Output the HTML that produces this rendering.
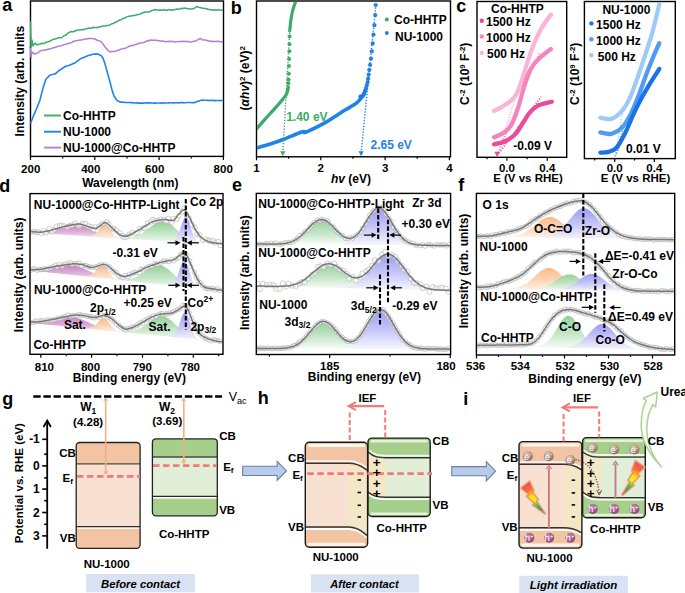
<!DOCTYPE html>
<html><head><meta charset="utf-8"><style>html,body{margin:0;padding:0;background:#fff;font-family:"Liberation Sans", sans-serif;}svg{display:block;}</style></head><body>
<svg width="685" height="593" viewBox="0 0 685 593" font-family="&quot;Liberation Sans&quot;, sans-serif" font-weight="bold">
<defs>
<linearGradient id="gPur" x1="0" y1="0" x2="0" y2="1"><stop offset="0" stop-color="#bf72b6"/><stop offset="0.55" stop-color="#dcaad6"/><stop offset="1" stop-color="#f7e8f5"/></linearGradient>
<linearGradient id="gOra" x1="0" y1="0" x2="0" y2="1"><stop offset="0" stop-color="#f7b47a"/><stop offset="0.55" stop-color="#fad2b0"/><stop offset="1" stop-color="#fef3ea"/></linearGradient>
<linearGradient id="gGrn" x1="0" y1="0" x2="0" y2="1"><stop offset="0" stop-color="#86ca8e"/><stop offset="0.55" stop-color="#c0e4c3"/><stop offset="1" stop-color="#f7fcf7"/></linearGradient>
<linearGradient id="gBlu" x1="0" y1="0" x2="0" y2="1"><stop offset="0" stop-color="#9090f3"/><stop offset="0.55" stop-color="#c3c3f8"/><stop offset="1" stop-color="#f5f5fe"/></linearGradient>
<linearGradient id="gArr" x1="0" y1="0" x2="0" y2="1"><stop offset="0" stop-color="#dbe8f7"/><stop offset="0.5" stop-color="#b4cdee"/><stop offset="1" stop-color="#9dbbe6"/></linearGradient>
<radialGradient id="gE" cx="0.4" cy="0.3" r="0.75"><stop offset="0" stop-color="#e2d0c6"/><stop offset="1" stop-color="#86604f"/></radialGradient>
<radialGradient id="gH" cx="0.4" cy="0.3" r="0.75"><stop offset="0" stop-color="#c98bb5"/><stop offset="1" stop-color="#853f70"/></radialGradient>
<linearGradient id="gBolt" x1="0" y1="0" x2="1" y2="1"><stop offset="0" stop-color="#f0303a"/><stop offset="0.35" stop-color="#f7a21d"/><stop offset="0.6" stop-color="#f4e61c"/><stop offset="0.8" stop-color="#3cc45a"/><stop offset="1" stop-color="#1e90c8"/></linearGradient>
<linearGradient id="gBolt2" x1="1" y1="0" x2="0" y2="1"><stop offset="0" stop-color="#f0303a"/><stop offset="0.35" stop-color="#f7a21d"/><stop offset="0.6" stop-color="#f4e61c"/><stop offset="0.8" stop-color="#3cc45a"/><stop offset="1" stop-color="#1e90c8"/></linearGradient>
</defs>
<rect width="685" height="593" fill="#fff"/>
<text x="2.2" y="11" font-size="18" text-anchor="start" fill="#000" >a</text>
<rect x="30.5" y="1" width="193" height="155.4" fill="none" stroke="#000" stroke-width="1.4"/>
<line x1="30.5" y1="156.4" x2="30.5" y2="159.9" stroke="#000" stroke-width="1.2" />
<line x1="94.8" y1="156.4" x2="94.8" y2="159.9" stroke="#000" stroke-width="1.2" />
<line x1="159.1" y1="156.4" x2="159.1" y2="159.9" stroke="#000" stroke-width="1.2" />
<line x1="223.4" y1="156.4" x2="223.4" y2="159.9" stroke="#000" stroke-width="1.2" />
<line x1="62.7" y1="156.4" x2="62.7" y2="158.4" stroke="#000" stroke-width="1.2" />
<line x1="127" y1="156.4" x2="127" y2="158.4" stroke="#000" stroke-width="1.2" />
<line x1="191.3" y1="156.4" x2="191.3" y2="158.4" stroke="#000" stroke-width="1.2" />
<text x="30.7" y="172.6" font-size="11.5" text-anchor="middle" fill="#000" >200</text>
<text x="90.8" y="172.6" font-size="11.5" text-anchor="middle" fill="#000" >400</text>
<text x="154.7" y="172.6" font-size="11.5" text-anchor="middle" fill="#000" >600</text>
<text x="223.2" y="172.6" font-size="11.5" text-anchor="middle" fill="#000" >800</text>
<text x="130.3" y="187.2" font-size="12" text-anchor="middle" fill="#000" >Wavelength (nm)</text>
<text transform="translate(23.8,81.1) rotate(-90)" font-size="12" text-anchor="middle">Intensity (arb. units</text>
<polyline points="30.5,21 31,47 32,40 33,46 35,43 37,45 38.5,44.3 40,44 41.7,43.3 43.3,43.5 45,43 46.7,41.9 48.3,41.7 50,41 51.7,40.2 53.3,39.2 55,39 56.8,38.6 58.5,37.8 60.2,37.8 62,37.5 64,35.8 66,35 68,33.1 70,32 71.7,31.6 73.3,31.7 75,31 76.7,30.3 78.3,30.1 80,30 81.7,29.8 83.3,29.8 85,29 86.7,28.7 88.3,28.2 90,28 91.7,28.3 93.3,27.2 95,27.5 96.7,27.7 98.3,27 100,27 101.7,26.3 103.3,26 105,26 106.7,25.5 108.3,25.6 110,25 111.7,23.8 113.3,23.4 115,22.5 116.7,21.8 118.3,20.7 120,20 121.7,19.4 123.3,18.2 125,18 126.7,16.9 128.3,16.4 130,16 131.7,16 133.3,15.6 135,15.5 136.7,14.8 138.3,14.6 140,14 141.7,13.3 143.3,12.5 145,12 146.7,12.1 148.3,11.9 150,11.5 151.7,10.6 153.3,10.2 155,9.5 156.7,9.7 158.3,10.2 160,10 161.7,10.2 163.3,9.8 165,10 166.7,10.5 168.3,9.6 170,10 171.7,9.8 173.3,9.9 175,9.5 176.7,9 178.3,9.2 180,9 181.7,8.2 183.3,8.5 185,8 186.7,8.6 188.3,8.7 190,9 192,9.1 194,8.5 195.5,7.3 197,6.5 198.5,7.2 200,7.5 201.7,7.9 203.3,8.2 205,8.5 206.7,8.8 208.3,9.5 210,9.5 211.7,10.1 213.3,9.8 215,10 216.6,10.2 218.2,9.6 219.8,10.2 221.4,10.1 223,10" fill="none" stroke="#3dab6a" stroke-width="1.5" stroke-linejoin="round" />
<polyline points="30.5,48 31,57 32,52 33,53 35,54 36.7,53.4 38.3,52.3 40,51 41.7,50.5 43.3,50.2 45,50 46.7,49.8 48.3,49 50,49 51.7,48.5 53.3,47.7 55,47.5 56.7,46.7 58.3,46.1 60,46 61.7,45.7 63.3,44.7 65,44.5 66.7,43.8 68.3,43.4 70,43 71.7,42.6 73.3,41.3 75,41 76.7,40.6 78.3,40.4 80,40 81.7,40 83.3,39.6 85,39 86.7,39.1 88.3,38.5 90,38.5 91.7,38.6 93.3,38.7 95,39 96.7,40 98.3,40.7 100,41 101.5,42.2 103,44 105,47 106.5,48.5 108,50.5 110,52 111.7,51.6 113.3,51.5 115,51.5 116.7,50.8 118.3,50.2 120,49.5 121.7,49 123.3,48.4 125,48.5 126.7,47.6 128.3,46.7 130,46 131.7,45.6 133.3,45.4 135,44.5 136.7,44.2 138.3,43.5 140,43 141.7,42.8 143.3,42.5 145,42 146.7,41 148.3,41 150,40 151.7,40.2 153.3,40.3 155,40 156.7,40.6 158.3,40.6 160,41 161.7,41.1 163.3,41 165,41.5 166.7,41.7 168.3,41.3 170,41.4 171.7,41.6 173.3,41.6 175,42 176.7,41.8 178.3,41.5 180,41.4 181.7,41.4 183.3,41.3 185,41.5 186.7,41.6 188.3,41.5 190,42 191.5,42 193,41.6 194.5,41 196,41 198,39.6 200,38.5 201.5,39.1 203,40 204.8,40.1 206.5,40.2 208.2,41 210,41 211.5,41.5 213,41.2 214.5,41.4 216,41.5 217.8,41.3 219.5,41.4 221.2,41.7 223,42" fill="none" stroke="#b47ed8" stroke-width="1.5" stroke-linejoin="round" />
<polyline points="30.5,123.5 33,117 34.5,113.4 36,110 38,105.1 40,100 41.5,93.9 43,88 44.5,83.4 46,79 48,77.1 50,75 51.7,74.7 53.3,74.2 55,74 56.7,72.7 58.3,71.2 60,70 61.7,68.8 63.3,67.8 65,66.5 66.7,66.1 68.3,65.6 70,65 71.7,64.3 73.3,63.6 75,63 76.7,61.6 78.3,60.4 80,59 81.7,58.3 83.3,57.8 85,57 86.7,56.3 88.3,55.6 90,55 92,54.6 94,54 96,54.1 98,54 99.5,54.9 101,55.5 103,58 105,64 107,71 108.5,76.6 110,82 112,90 114,96 115.5,98.3 117,100.5 118.5,101.3 120,102 121.7,102.1 123.3,102.3 125,102.5 126.5,102.5 128,102.5 129.5,102.5 131,102.6 132.5,102.7 134,102.9 135.5,103 137,102.9 138.5,103.1 140,103 141.5,103.1 143.1,103.1 144.6,103 146.2,102.9 147.7,102.9 149.2,102.9 150.8,102.9 152.3,103 153.8,103.1 155.4,103.1 156.9,103 158.5,103 160,103 161.5,103.1 163.1,102.8 164.6,103 166.2,103 167.7,103 169.2,102.9 170.8,102.8 172.3,102.7 173.8,102.9 175.4,102.7 176.9,102.8 178.5,102.9 180,102.7 181.5,102.6 183,102.6 184.5,102.8 186,102.7 187.5,102.5 189,102.5 190.5,102.5 192,102.7 193.5,102.6 195,102.5 197,101.6 199,101 200.5,100.6 202,100 203.6,100.2 205.2,100.2 206.8,100.3 208.4,100.4 210,100.5 211.6,100.4 213.2,100.4 214.9,100.6 216.5,100.5 218.1,100.5 219.8,100.6 221.4,100.5 223,100.5" fill="none" stroke="#1f84e8" stroke-width="1.6" stroke-linejoin="round" />
<line x1="44" y1="115.5" x2="61" y2="115.5" stroke="#3dab6a" stroke-width="1.9" />
<text x="63" y="119.8" font-size="12" text-anchor="start" fill="#000" >Co-HHTP</text>
<line x1="44" y1="131.7" x2="61" y2="131.7" stroke="#1f84e8" stroke-width="1.9" />
<text x="63" y="136" font-size="12" text-anchor="start" fill="#000" >NU-1000</text>
<line x1="44" y1="147.6" x2="61" y2="147.6" stroke="#b47ed8" stroke-width="1.9" />
<text x="63" y="151.9" font-size="12" text-anchor="start" fill="#000" >NU-1000@Co-HHTP</text>
<text x="230.7" y="14" font-size="18" text-anchor="start" fill="#000" >b</text>
<rect x="256.5" y="1" width="194" height="155.8" fill="none" stroke="#000" stroke-width="1.4"/>
<line x1="256.5" y1="156.8" x2="256.5" y2="160.3" stroke="#000" stroke-width="1.2" />
<line x1="320.8" y1="156.8" x2="320.8" y2="160.3" stroke="#000" stroke-width="1.2" />
<line x1="385.1" y1="156.8" x2="385.1" y2="160.3" stroke="#000" stroke-width="1.2" />
<line x1="449.4" y1="156.8" x2="449.4" y2="160.3" stroke="#000" stroke-width="1.2" />
<line x1="288.6" y1="156.8" x2="288.6" y2="158.8" stroke="#000" stroke-width="1.2" />
<line x1="352.9" y1="156.8" x2="352.9" y2="158.8" stroke="#000" stroke-width="1.2" />
<line x1="417.2" y1="156.8" x2="417.2" y2="158.8" stroke="#000" stroke-width="1.2" />
<text x="256.5" y="172.4" font-size="11.5" text-anchor="middle" fill="#000" >1</text>
<text x="320.8" y="172.4" font-size="11.5" text-anchor="middle" fill="#000" >2</text>
<text x="385.1" y="172.4" font-size="11.5" text-anchor="middle" fill="#000" >3</text>
<text x="449.4" y="172.4" font-size="11.5" text-anchor="middle" fill="#000" >4</text>
<text x="351" y="182.5" font-size="12" text-anchor="middle"><tspan font-style="italic">hv</tspan> (eV)</text>
<text transform="translate(249.2,78.2) rotate(-90)" font-size="12" text-anchor="middle">(<tspan font-style="italic">αhv</tspan>)<tspan font-size="8" dy="-4">2</tspan><tspan dy="4"> (eV)</tspan><tspan font-size="8" dy="-4">2</tspan></text>
<clipPath id="cb"><rect x="257" y="1.7" width="193" height="154.5"/></clipPath>
<g clip-path="url(#cb)">
<path d="M257,128.4 C258.4,126.9 262.3,122.2 265.1,119.1 C267.9,116 271.1,112.6 273.6,109.8 C276.1,107 278.2,104.7 280.3,102.2 C282.4,99.7 284.9,96.7 286.2,94.6 C287.5,92.5 287.5,90.8 287.9,89.5 C288.2,88.2 288.2,87.4 288.3,87" fill="none" stroke="#3dab6a" stroke-width="3.3" stroke-linecap="round"/>
<path d="M257,147.8 C259.5,147.1 267.4,144.9 271.9,143.5 C276.3,142.1 278.6,141.3 283.7,139.3 C288.8,137.3 298.6,132.9 302.3,131.7 C306,130.5 302.2,133.5 305.6,132.2 C309,130.9 317.6,126.7 322.5,124.1 C327.4,121.5 331.2,118.8 335,116.5 C338.8,114.2 341.3,112.3 345,110 C348.7,107.7 353.9,105.3 357,102.7 C360.1,100.1 362.7,95.9 363.8,94.6" fill="none" stroke="#1f84e8" stroke-width="3.6" stroke-linecap="round"/>
<path d="M289.7,31 C289.8,30 290.1,27.2 290.3,25 C290.6,22.8 290.8,20.3 291.2,18 C291.6,15.7 292.1,13.2 292.6,11 C293.1,8.8 293.7,7 294.4,5 C295.1,3 296.4,0 296.8,-1" fill="none" stroke="#3dab6a" stroke-width="3.2" stroke-linecap="round"/>
<line x1="282.8" y1="153" x2="290.3" y2="22" stroke="#3dab6a" stroke-width="1.4" stroke-dasharray="1.3,1.6"/>
<line x1="361.1" y1="153" x2="376" y2="4" stroke="#1f84e8" stroke-width="1.4" stroke-dasharray="1.3,1.6"/>
<circle cx="289.6" cy="36.5" r="1.75" fill="#3dab6a" stroke="#2e8f55" stroke-width="0.4"/>
<circle cx="289.5" cy="44.2" r="1.75" fill="#3dab6a" stroke="#2e8f55" stroke-width="0.4"/>
<circle cx="289.4" cy="51.3" r="1.75" fill="#3dab6a" stroke="#2e8f55" stroke-width="0.4"/>
<circle cx="289.2" cy="58.9" r="1.75" fill="#3dab6a" stroke="#2e8f55" stroke-width="0.4"/>
<circle cx="289" cy="66" r="1.75" fill="#3dab6a" stroke="#2e8f55" stroke-width="0.4"/>
<circle cx="288.8" cy="73.7" r="1.75" fill="#3dab6a" stroke="#2e8f55" stroke-width="0.4"/>
<circle cx="288.5" cy="79.6" r="1.75" fill="#3dab6a" stroke="#2e8f55" stroke-width="0.4"/>
<circle cx="288.4" cy="83.2" r="1.75" fill="#3dab6a" stroke="#2e8f55" stroke-width="0.4"/>
<circle cx="375.7" cy="5" r="1.85" fill="#1f84e8" stroke="#1466c0" stroke-width="0.4"/>
<circle cx="375.2" cy="15.1" r="1.85" fill="#1f84e8" stroke="#1466c0" stroke-width="0.4"/>
<circle cx="374.4" cy="25.2" r="1.85" fill="#1f84e8" stroke="#1466c0" stroke-width="0.4"/>
<circle cx="373.5" cy="34.5" r="1.85" fill="#1f84e8" stroke="#1466c0" stroke-width="0.4"/>
<circle cx="372.7" cy="43.4" r="1.85" fill="#1f84e8" stroke="#1466c0" stroke-width="0.4"/>
<circle cx="371.8" cy="51.3" r="1.85" fill="#1f84e8" stroke="#1466c0" stroke-width="0.4"/>
<circle cx="371" cy="58.6" r="1.85" fill="#1f84e8" stroke="#1466c0" stroke-width="0.4"/>
<circle cx="370.1" cy="64.8" r="1.85" fill="#1f84e8" stroke="#1466c0" stroke-width="0.4"/>
<circle cx="369.3" cy="69.8" r="1.85" fill="#1f84e8" stroke="#1466c0" stroke-width="0.4"/>
<circle cx="368.7" cy="74.5" r="1.85" fill="#1f84e8" stroke="#1466c0" stroke-width="0.4"/>
<circle cx="368.1" cy="78.5" r="1.85" fill="#1f84e8" stroke="#1466c0" stroke-width="0.4"/>
<circle cx="367.6" cy="82" r="1.85" fill="#1f84e8" stroke="#1466c0" stroke-width="0.4"/>
<circle cx="366.8" cy="85" r="1.85" fill="#1f84e8" stroke="#1466c0" stroke-width="0.4"/>
<circle cx="366" cy="88" r="1.85" fill="#1f84e8" stroke="#1466c0" stroke-width="0.4"/>
<circle cx="365.2" cy="90.5" r="1.85" fill="#1f84e8" stroke="#1466c0" stroke-width="0.4"/>
<circle cx="364.4" cy="92.8" r="1.85" fill="#1f84e8" stroke="#1466c0" stroke-width="0.4"/>
<circle cx="363.4" cy="94.8" r="1.85" fill="#1f84e8" stroke="#1466c0" stroke-width="0.4"/>
<circle cx="360.4" cy="96.5" r="1.85" fill="#1f84e8" stroke="#1466c0" stroke-width="0.4"/>
</g>
<path d="M280.2,151.2 L282.8,156.3 L285.4,151.2 Z" fill="#3dab6a"/>
<path d="M358.5,151.2 L361.1,156.3 L363.7,151.2 Z" fill="#1f84e8"/>
<text x="286.2" y="121.1" font-size="12" text-anchor="start" fill="#3dab6a" >1.40 eV</text>
<text x="370.5" y="148.6" font-size="12" text-anchor="start" fill="#1f84e8" >2.65 eV</text>
<circle cx="386.8" cy="19.5" r="2" fill="#3dab6a"/>
<circle cx="386.8" cy="33" r="2" fill="#1f84e8"/>
<text x="394" y="24.2" font-size="12" text-anchor="start" fill="#000" >Co-HHTP</text>
<text x="395" y="41.3" font-size="12" text-anchor="start" fill="#000" >NU-1000</text>
<text x="456.2" y="11.8" font-size="18" text-anchor="start" fill="#000" >c</text>
<rect x="477" y="1.5" width="89.7" height="155.8" fill="none" stroke="#000" stroke-width="1.4"/>
<rect x="584.4" y="1.5" width="90.9" height="157.1" fill="none" stroke="#000" stroke-width="1.4"/>
<line x1="506.9" y1="157.2" x2="506.9" y2="160.7" stroke="#000" stroke-width="1.2" />
<line x1="547.3" y1="157.2" x2="547.3" y2="160.7" stroke="#000" stroke-width="1.2" />
<line x1="487" y1="157.2" x2="487" y2="159.2" stroke="#000" stroke-width="1.2" />
<line x1="527.1" y1="157.2" x2="527.1" y2="159.2" stroke="#000" stroke-width="1.2" />
<line x1="614.7" y1="158.6" x2="614.7" y2="162.1" stroke="#000" stroke-width="1.2" />
<line x1="654.3" y1="158.6" x2="654.3" y2="162.1" stroke="#000" stroke-width="1.2" />
<line x1="594.6" y1="158.6" x2="594.6" y2="160.6" stroke="#000" stroke-width="1.2" />
<line x1="634.5" y1="158.6" x2="634.5" y2="160.6" stroke="#000" stroke-width="1.2" />
<text x="506.9" y="172.3" font-size="11.5" text-anchor="middle" fill="#000" >0.0</text>
<text x="547.3" y="172.3" font-size="11.5" text-anchor="middle" fill="#000" >0.4</text>
<text x="614.7" y="172.3" font-size="11.5" text-anchor="middle" fill="#000" >0.0</text>
<text x="654.3" y="172.3" font-size="11.5" text-anchor="middle" fill="#000" >0.4</text>
<text x="528" y="182" font-size="11.5" text-anchor="middle" fill="#000" >E (V vs RHE)</text>
<text x="635.5" y="182" font-size="11.5" text-anchor="middle" fill="#000" >E (V vs RHE)</text>
<text transform="translate(469.2,73.8) rotate(-90)" font-size="12" text-anchor="middle">C<tspan font-size="7.8" dy="-4.2">-2</tspan><tspan dy="4.2"> (10</tspan><tspan font-size="7.8" dy="-4.2">9</tspan><tspan dy="4.2"> F</tspan><tspan font-size="7.8" dy="-4.2">-2</tspan><tspan dy="4.2">)</tspan></text>
<text transform="translate(578.7,73.8) rotate(-90)" font-size="12" text-anchor="middle">C<tspan font-size="7.8" dy="-4.2">-2</tspan><tspan dy="4.2"> (10</tspan><tspan font-size="7.8" dy="-4.2">9</tspan><tspan dy="4.2"> F</tspan><tspan font-size="7.8" dy="-4.2">-2</tspan><tspan dy="4.2">)</tspan></text>
<text x="491.1" y="13.2" font-size="12" text-anchor="start" fill="#000" >Co-HHTP</text>
<circle cx="481.8" cy="20.8" r="2.2" fill="#ee4a9b"/>
<text x="486" y="26.1" font-size="12" text-anchor="start" fill="#000" >1500 Hz</text>
<circle cx="481.8" cy="36.5" r="2.2" fill="#f583bd"/>
<text x="486" y="41.8" font-size="12" text-anchor="start" fill="#000" >1000 Hz</text>
<circle cx="481.8" cy="52.9" r="2.2" fill="#f9b5d6"/>
<text x="487" y="58.2" font-size="12" text-anchor="start" fill="#000" >500 Hz</text>
<text x="602.4" y="14.3" font-size="12" text-anchor="start" fill="#000" >NU-1000</text>
<circle cx="591.4" cy="23.4" r="2.2" fill="#1a74e6"/>
<text x="596.1" y="28.7" font-size="12" text-anchor="start" fill="#000" >1500 Hz</text>
<circle cx="591.4" cy="39.3" r="2.2" fill="#4f9cf0"/>
<text x="596.1" y="44.6" font-size="12" text-anchor="start" fill="#000" >1000 Hz</text>
<circle cx="591.4" cy="55.3" r="2.2" fill="#9fcaf6"/>
<text x="597.8" y="60.6" font-size="12" text-anchor="start" fill="#000" >500 Hz</text>
<clipPath id="cc1"><rect x="477.7" y="2.2" width="88.3" height="154.4"/></clipPath>
<clipPath id="cc2"><rect x="585.1" y="2.2" width="89.5" height="155.7"/></clipPath>
<g clip-path="url(#cc1)">
<line x1="497.1" y1="155.4" x2="541.3" y2="96.7" stroke="#ee4a9b" stroke-width="1.6" stroke-dasharray="1.3,1.5"/>
<line x1="497.1" y1="155.4" x2="539.7" y2="52.1" stroke="#f583bd" stroke-width="1.6" stroke-dasharray="1.3,1.5"/>
<line x1="497.1" y1="155.4" x2="521" y2="80" stroke="#f9b5d6" stroke-width="1.6" stroke-dasharray="1.3,1.5"/>
<path d="M494.1,110.9 C495.1,110.4 498.1,109 500,108 C501.9,107 503.6,105.8 505.2,104.8 C506.8,103.8 508.1,102.9 509.5,101.8 C510.9,100.7 512.1,99.6 513.3,98.3 C514.5,97 515.5,95.6 516.5,94 C517.5,92.4 518.2,90.8 519,88.6 C519.8,86.4 520.7,83.6 521.5,81 C522.3,78.4 523,76.1 524,73 C525,69.9 526.2,66.1 527.5,62.3 C528.8,58.5 530.2,53.8 531.6,50.1 C533,46.4 534.1,43.4 535.6,40 C537.1,36.6 538.9,33 540.5,30 C542.1,27 543.8,24.5 545.5,22 C547.2,19.5 550.1,16 551,14.8" fill="none" stroke="#f9b5d6" stroke-width="4.3" stroke-linecap="round"/>
<path d="M494.1,137.2 C495.6,136.5 500.3,135.1 503.2,133.1 C506.1,131.1 508.8,129.4 511.3,125 C513.8,120.6 516.4,112.9 518.4,106.8 C520.4,100.7 521.8,94.2 523.5,88.6 C525.2,83 526.6,77.6 528.5,73.4 C530.4,69.2 532.4,66.2 534.6,63.3 C536.8,60.4 539,58.6 541.7,56.2 C544.4,53.8 549.3,50.3 550.8,49.1" fill="none" stroke="#f583bd" stroke-width="4.3" stroke-linecap="round"/>
<path d="M494.1,144.3 C496,143.8 501.6,142.9 505.2,141.2 C508.8,139.5 512.4,137.3 515.4,134.1 C518.4,130.9 521.1,125.5 523.5,122 C525.9,118.5 527.1,115.6 529.5,112.9 C531.9,110.2 533.9,107.7 537.6,105.8 C541.3,103.9 549.4,102.4 551.8,101.7" fill="none" stroke="#ee4a9b" stroke-width="4.3" stroke-linecap="round"/>
<path d="M494.3,151.8 L497.1,157 L499.9,151.8 Z" fill="#ee4a9b"/>
</g>
<g clip-path="url(#cc2)">
<line x1="615.3" y1="156.2" x2="627" y2="128" stroke="#1a74e6" stroke-width="1.4" stroke-dasharray="1.2,1.6"/>
<line x1="615.3" y1="156.2" x2="625" y2="122" stroke="#4f9cf0" stroke-width="1.4" stroke-dasharray="1.2,1.6"/>
<line x1="615.3" y1="156.2" x2="623" y2="110" stroke="#9fcaf6" stroke-width="1.4" stroke-dasharray="1.2,1.6"/>
<path d="M600.4,117.6 C602.2,117.8 607.6,120 611.2,118.9 C614.8,117.8 618.9,114.4 622,110.8 C625.1,107.2 627.4,103.1 630.1,97.3 C632.8,91.5 635.5,83.4 638.2,75.7 C640.9,68 643.9,59.1 646.4,51.4 C648.9,43.7 651,37.6 653.1,29.7 C655.2,21.8 658.3,8.4 659.3,4.1" fill="none" stroke="#9fcaf6" stroke-width="4.3" stroke-linecap="round"/>
<path d="M600.4,132.4 C602.2,132.6 607.5,134.7 611.2,133.8 C614.9,132.9 619.2,130.4 622.5,127 C625.8,123.6 628.2,118.9 631,113.5 C633.8,108.1 636.4,101.3 639,94.6 C641.6,87.8 644.4,79.3 646.8,73 C649.2,66.7 651.2,61.8 653.3,56.8 C655.4,51.8 658.3,45.5 659.3,43.2" fill="none" stroke="#4f9cf0" stroke-width="4.3" stroke-linecap="round"/>
<path d="M600.4,152.7 C601.8,152.6 605.8,152.8 608.5,151.9 C611.2,151 614,150.6 616.8,147.3 C619.6,144.1 622.7,138 625.5,132.4 C628.3,126.8 631,119.3 633.8,113.5 C636.5,107.7 639.3,102.2 642,97.3 C644.7,92.3 646.9,88.5 649.8,83.8 C652.7,79.1 657.7,71.4 659.3,68.9" fill="none" stroke="#1a74e6" stroke-width="4.3" stroke-linecap="round"/>
</g>
<text x="513.3" y="150.3" font-size="12" text-anchor="start" fill="#000" >-0.09 V</text>
<text x="626.1" y="152.7" font-size="12" text-anchor="start" fill="#000" >0.01 V</text>
<text x="-0.8" y="191.6" font-size="18" text-anchor="start" fill="#000" >d</text>
<clipPath id="cd"><rect x="30.7" y="194.3" width="191.6" height="159.3"/></clipPath>
<g clip-path="url(#cd)">
<path d="M30,232.1 L31,232.1 L32,232.1 L33,232.1 L34,232.1 L35,232 L36,232 L37,231.9 L38,231.8 L38.9,231.7 L39.9,231.6 L40.9,231.5 L41.9,231.4 L42.9,231.2 L43.9,231.1 L44.9,230.9 L45.9,230.7 L46.9,230.5 L47.9,230.2 L48.9,230 L49.9,229.7 L50.9,229.4 L51.9,229.1 L52.9,228.8 L53.9,228.5 L54.8,228.2 L55.8,227.8 L56.8,227.5 L57.8,227.2 L58.8,226.8 L59.8,226.5 L60.8,226.2 L61.8,225.9 L62.8,225.6 L63.8,225.3 L64.8,225.1 L65.8,224.9 L66.8,224.6 L67.8,224.5 L68.8,224.3 L69.8,224.2 L70.8,224.1 L71.7,224.1 L72.7,224.1 L73.7,224.1 L74.7,224.2 L75.7,224.3 L76.7,224.5 L77.7,224.7 L78.7,224.9 L79.7,225.1 L80.7,225.4 L81.7,225.7 L82.7,226.1 L83.7,226.5 L84.7,226.8 L85.7,227.3 L86.7,227.7 L87.6,228.1 L88.6,228.6 L89.6,229 L90.6,229.5 L91.6,229.9 L92.6,230.4 L93.6,230.9 L94.6,231.3 L95.6,231.8 L96.6,232.2 L97.6,232.6 L98.6,233 L99.6,233.4 L100.6,233.8 L101.6,234.1 L102.6,234.5 L103.6,234.8 L104.5,235.1 L105.5,235.4 L106.5,235.7 L107.5,235.9 L108.5,236.2 L109.5,236.4 L110.5,236.6 L111.5,236.8 L112.5,237 L113.5,237.2 L114.5,237.3 L115.5,237.5 L116.5,237.6 L117.5,237.7 L118.5,237.9 L119.5,238 L120.4,238.1 L121.4,238.2 L122.4,238.3 L123.4,238.4 L124.4,238.5 L125.4,238.6 L126.4,238.6 L127.4,238.7 L128.4,238.8 L128.4,238.9 L30,232.5Z" fill="url(#gPur)" opacity="0.9"/>
<path d="M87.4,236.1 L88.4,236.1 L89.4,236.1 L90.3,236 L91.3,235.9 L92.3,235.6 L93.3,235.2 L94.2,234.7 L95.2,234 L96.2,233.1 L97.2,232 L98.2,230.7 L99.1,229.4 L100.1,228 L101.1,226.7 L102.1,225.5 L103,224.7 L104,224.1 L105,224 L106,224.2 L107,224.9 L107.9,225.9 L108.9,227.2 L109.9,228.6 L110.9,230.2 L111.8,231.6 L112.8,233 L113.8,234.2 L114.8,235.2 L115.8,236.1 L116.7,236.7 L117.7,237.3 L118.7,237.6 L119.7,237.9 L120.6,238.1 L121.6,238.3 L122.6,238.4 L122.6,238.5 L87.4,236.2Z" fill="url(#gOra)" opacity="0.9"/>
<path d="M118.2,238.1 L119.2,238.1 L120.2,238.2 L121.2,238.2 L122.2,238.2 L123.2,238.2 L124.2,238.2 L125.2,238.1 L126.2,238.1 L127.2,238 L128.2,238 L129.2,237.9 L130.1,237.7 L131.1,237.6 L132.1,237.4 L133.1,237.1 L134.1,236.9 L135.1,236.6 L136.1,236.2 L137.1,235.8 L138.1,235.4 L139.1,234.9 L140.1,234.4 L141.1,233.8 L142.1,233.2 L143.1,232.6 L144.1,231.9 L145.1,231.2 L146.1,230.4 L147.1,229.7 L148.1,228.9 L149.1,228.1 L150.1,227.3 L151.1,226.5 L152,225.7 L153,225 L154,224.3 L155,223.7 L156,223.1 L157,222.6 L158,222.1 L159,221.7 L160,221.5 L161,221.3 L162,221.2 L163,221.2 L164,221.3 L165,221.5 L166,221.9 L167,222.3 L168,222.8 L169,223.3 L170,224 L171,224.7 L172,225.5 L173,226.3 L174,227.2 L174.9,228.1 L175.9,229 L176.9,229.9 L177.9,230.8 L178.9,231.7 L179.9,232.6 L180.9,233.5 L181.9,234.4 L182.9,235.2 L183.9,235.9 L184.9,236.7 L185.9,237.4 L186.9,238 L187.9,238.6 L188.9,239.2 L189.9,239.7 L190.9,240.2 L191.9,240.6 L192.9,241 L193.9,241.4 L194.9,241.7 L195.9,242 L196.8,242.2 L197.8,242.5 L198.8,242.7 L199.8,242.9 L200.8,243 L201.8,243.2 L202.8,243.3 L203.8,243.5 L204.8,243.6 L205.8,243.7 L206.8,243.8 L207.8,243.9 L207.8,244 L118.2,238.2Z" fill="url(#gGrn)" opacity="0.9"/>
<path d="M169.8,241.4 L170.8,241.3 L171.7,241.2 L172.7,240.9 L173.7,240.5 L174.6,239.8 L175.6,238.7 L176.6,237.3 L177.6,235.5 L178.5,233.3 L179.5,230.7 L180.5,227.9 L181.4,225 L182.4,222.2 L183.4,219.9 L184.3,218.1 L185.3,217.3 L186.3,217.3 L187.3,218.3 L188.2,220.2 L189.2,222.6 L190.2,225.5 L191.1,228.6 L192.1,231.5 L193.1,234.2 L194,236.6 L195,238.5 L196,240.1 L197,241.2 L197.9,242 L198.9,242.6 L199.9,243 L200.8,243.3 L201.8,243.5 L201.8,243.6 L169.8,241.6Z" fill="url(#gBlu)" opacity="0.9"/>
<g fill="#fff" fill-opacity="0.6" stroke="#a6a6a6" stroke-width="0.55"><circle cx="30.9" cy="231.9" r="2.5"/><circle cx="34.1" cy="231.7" r="2.5"/><circle cx="36.2" cy="232.5" r="2.5"/><circle cx="38.4" cy="232.2" r="2.5"/><circle cx="41.6" cy="233.4" r="2.5"/><circle cx="43.5" cy="230.9" r="2.5"/><circle cx="46.1" cy="232.6" r="2.5"/><circle cx="49.4" cy="228.6" r="2.5"/><circle cx="52.4" cy="231.9" r="2.5"/><circle cx="54.6" cy="229.7" r="2.5"/><circle cx="56.6" cy="226.3" r="2.5"/><circle cx="59.6" cy="225.8" r="2.5"/><circle cx="61.8" cy="225.9" r="2.5"/><circle cx="64.2" cy="226.2" r="2.5"/><circle cx="67.3" cy="227.2" r="2.5"/><circle cx="70" cy="225.8" r="2.5"/><circle cx="72.6" cy="225.3" r="2.5"/><circle cx="75.1" cy="223.2" r="2.5"/><circle cx="78.4" cy="226.1" r="2.5"/><circle cx="80.8" cy="225.1" r="2.5"/><circle cx="82.8" cy="223.6" r="2.5"/><circle cx="85.3" cy="223.8" r="2.5"/><circle cx="88.5" cy="226.1" r="2.5"/><circle cx="91.2" cy="226.9" r="2.5"/><circle cx="93.9" cy="229.7" r="2.5"/><circle cx="95.4" cy="227" r="2.5"/><circle cx="99.1" cy="226.8" r="2.5"/><circle cx="101.8" cy="224.6" r="2.5"/><circle cx="103.3" cy="223.4" r="2.5"/><circle cx="106.7" cy="221.9" r="2.5"/><circle cx="108.5" cy="224.2" r="2.5"/><circle cx="112.2" cy="228.5" r="2.5"/><circle cx="113.7" cy="228.6" r="2.5"/><circle cx="116.3" cy="230.3" r="2.5"/><circle cx="119.8" cy="233.1" r="2.5"/><circle cx="122.1" cy="235.6" r="2.5"/><circle cx="124.2" cy="237.3" r="2.5"/><circle cx="126.8" cy="236.7" r="2.5"/><circle cx="129.3" cy="234.6" r="2.5"/><circle cx="132.1" cy="232.6" r="2.5"/><circle cx="135.6" cy="233.5" r="2.5"/><circle cx="137.4" cy="232.4" r="2.5"/><circle cx="139.9" cy="228.7" r="2.5"/><circle cx="143.2" cy="228.2" r="2.5"/><circle cx="144.9" cy="228.1" r="2.5"/><circle cx="147.7" cy="223.2" r="2.5"/><circle cx="150.9" cy="221.9" r="2.5"/><circle cx="153" cy="219.6" r="2.5"/><circle cx="155.3" cy="221.1" r="2.5"/><circle cx="158.1" cy="220.6" r="2.5"/><circle cx="160.8" cy="219.5" r="2.5"/><circle cx="164.2" cy="219.4" r="2.5"/><circle cx="166.3" cy="221.3" r="2.5"/><circle cx="168.4" cy="218.6" r="2.5"/><circle cx="171.9" cy="222" r="2.5"/><circle cx="173.7" cy="218.7" r="2.5"/><circle cx="176.9" cy="219" r="2.5"/><circle cx="178.8" cy="215.8" r="2.5"/><circle cx="182.3" cy="211.5" r="2.5"/><circle cx="184.3" cy="208" r="2.5"/><circle cx="186.4" cy="214.9" r="2.5"/><circle cx="189.3" cy="218.7" r="2.5"/><circle cx="191.9" cy="224.5" r="2.5"/><circle cx="194.9" cy="227.6" r="2.5"/><circle cx="197" cy="233.9" r="2.5"/><circle cx="199.5" cy="235.1" r="2.5"/><circle cx="202.7" cy="240.2" r="2.5"/><circle cx="205.3" cy="239.2" r="2.5"/><circle cx="208.3" cy="240.1" r="2.5"/><circle cx="209.8" cy="241.2" r="2.5"/><circle cx="212.9" cy="240.9" r="2.5"/><circle cx="215.2" cy="242.6" r="2.5"/><circle cx="218.3" cy="241.8" r="2.5"/><circle cx="220.6" cy="245.3" r="2.5"/></g>
<path d="M30.2,231.6 C32.3,231.7 38.1,232.5 42.6,232 C47.1,231.5 52.8,229.5 57.2,228.4 C61.6,227.3 65.2,226.1 68.9,225.4 C72.6,224.7 75.7,223.8 79.1,224 C82.5,224.2 86.6,226.2 89.3,226.9 C92,227.6 93.4,228.6 95.2,228.4 C97,228.2 98.3,227 100,226 C101.7,225 103.3,222.1 105.4,222.5 C107.5,222.9 110.3,226.3 112.7,228.4 C115.1,230.5 117.8,233.6 120,234.9 C122.2,236.2 124.2,236.4 126,236.3 C127.8,236.2 129.1,235.2 131,234.3 C132.9,233.4 135.3,232 137.6,230.7 C139.9,229.4 142.5,227.8 144.9,226.3 C147.3,224.8 149.5,223 152.2,221.9 C154.9,220.8 158.6,220.1 161,219.7 C163.4,219.3 164.7,219.6 166.8,219.7 C168.9,219.8 171.5,221.2 173.4,220.4 C175.3,219.6 176.9,216.3 178.5,214.6 C180.1,212.9 181.7,210.8 182.9,210.2 C184.1,209.6 184.5,209.3 185.8,211 C187.1,212.7 189.2,217.1 190.9,220.4 C192.6,223.7 194.2,227.8 196,230.7 C197.8,233.6 199.4,236.1 201.8,238 C204.2,239.9 207.1,241.3 210.6,242.3 C214.1,243.3 220.9,243.6 223,243.8" fill="none" stroke="#787878" stroke-width="1.5"/>
<path d="M30,270 L31,270 L32,270 L33,270 L34,270 L35,270 L36,269.9 L37,269.9 L38,269.8 L38.9,269.8 L39.9,269.7 L40.9,269.6 L41.9,269.5 L42.9,269.3 L43.9,269.2 L44.9,269 L45.9,268.8 L46.9,268.6 L47.9,268.4 L48.9,268.2 L49.9,268 L50.9,267.8 L51.9,267.5 L52.9,267.3 L53.9,267 L54.8,266.8 L55.8,266.5 L56.8,266.3 L57.8,266 L58.8,265.8 L59.8,265.6 L60.8,265.4 L61.8,265.2 L62.8,265.1 L63.8,264.9 L64.8,264.8 L65.8,264.8 L66.8,264.7 L67.8,264.7 L68.8,264.7 L69.8,264.7 L70.7,264.8 L71.7,264.9 L72.7,265.1 L73.7,265.3 L74.7,265.5 L75.7,265.7 L76.7,266 L77.7,266.3 L78.7,266.6 L79.7,267 L80.7,267.4 L81.7,267.8 L82.7,268.2 L83.7,268.6 L84.7,269.1 L85.7,269.5 L86.6,270 L87.6,270.4 L88.6,270.9 L89.6,271.3 L90.6,271.8 L91.6,272.2 L92.6,272.7 L93.6,273.1 L94.6,273.5 L95.6,274 L96.6,274.3 L97.6,274.7 L98.6,275.1 L99.6,275.5 L100.6,275.8 L101.5,276.1 L102.5,276.4 L103.5,276.7 L104.5,277 L105.5,277.3 L106.5,277.5 L107.5,277.7 L108.5,278 L109.5,278.2 L110.5,278.4 L111.5,278.6 L112.5,278.8 L113.5,278.9 L114.5,279.1 L115.5,279.3 L116.5,279.4 L117.5,279.5 L118.4,279.7 L119.4,279.8 L120.4,280 L121.4,280.1 L122.4,280.2 L123.4,280.3 L124.4,280.5 L125.4,280.6 L125.4,280.6 L30,270.5Z" fill="url(#gPur)" opacity="0.9"/>
<path d="M83.3,276.1 L84.3,276.1 L85.3,276.2 L86.3,276.1 L87.2,276.1 L88.2,275.9 L89.2,275.7 L90.2,275.3 L91.2,274.8 L92.2,274.2 L93.1,273.4 L94.1,272.4 L95.1,271.4 L96.1,270.2 L97.1,269 L98.1,267.9 L99.1,266.9 L100,266.1 L101,265.5 L102,265.3 L103,265.4 L104,265.8 L105,266.6 L105.9,267.6 L106.9,268.8 L107.9,270.2 L108.9,271.6 L109.9,272.9 L110.9,274.2 L111.9,275.4 L112.8,276.4 L113.8,277.2 L114.8,277.9 L115.8,278.5 L116.8,279 L117.8,279.3 L118.7,279.6 L119.7,279.8 L120.7,280 L121.7,280.2 L121.7,280.2 L83.3,276.2Z" fill="url(#gOra)" opacity="0.9"/>
<path d="M114.7,279.4 L115.7,279.5 L116.7,279.5 L117.7,279.6 L118.7,279.6 L119.7,279.7 L120.7,279.7 L121.7,279.7 L122.7,279.7 L123.7,279.7 L124.7,279.7 L125.7,279.6 L126.6,279.5 L127.6,279.4 L128.6,279.3 L129.6,279.1 L130.6,278.9 L131.6,278.6 L132.6,278.4 L133.6,278 L134.6,277.7 L135.6,277.2 L136.6,276.8 L137.6,276.3 L138.6,275.7 L139.6,275.2 L140.6,274.5 L141.6,273.9 L142.6,273.2 L143.6,272.5 L144.6,271.8 L145.6,271.1 L146.6,270.4 L147.6,269.6 L148.5,269 L149.5,268.3 L150.5,267.7 L151.5,267.1 L152.5,266.6 L153.5,266.1 L154.5,265.7 L155.5,265.4 L156.5,265.2 L157.5,265 L158.5,265 L159.5,265.1 L160.5,265.2 L161.5,265.5 L162.5,265.8 L163.5,266.2 L164.5,266.8 L165.5,267.4 L166.5,268 L167.5,268.8 L168.5,269.6 L169.5,270.4 L170.5,271.3 L171.4,272.2 L172.4,273.1 L173.4,274 L174.4,275 L175.4,275.9 L176.4,276.8 L177.4,277.7 L178.4,278.6 L179.4,279.4 L180.4,280.2 L181.4,280.9 L182.4,281.6 L183.4,282.3 L184.4,282.9 L185.4,283.5 L186.4,284.1 L187.4,284.6 L188.4,285 L189.4,285.5 L190.4,285.8 L191.4,286.2 L192.4,286.5 L193.3,286.8 L194.3,287.1 L195.3,287.3 L196.3,287.6 L197.3,287.8 L198.3,288 L199.3,288.1 L200.3,288.3 L201.3,288.5 L202.3,288.6 L203.3,288.8 L204.3,288.9 L204.3,289 L114.7,279.5Z" fill="url(#gGrn)" opacity="0.9"/>
<path d="M168.3,285 L169.3,285 L170.2,284.9 L171.2,284.6 L172.2,284.2 L173.1,283.5 L174.1,282.5 L175.1,281 L176.1,279.2 L177,276.9 L178,274.2 L179,271.3 L179.9,268.3 L180.9,265.4 L181.9,263 L182.8,261.2 L183.8,260.4 L184.8,260.5 L185.8,261.5 L186.7,263.5 L187.7,266.1 L188.7,269.2 L189.6,272.4 L190.6,275.5 L191.6,278.4 L192.5,280.9 L193.5,283 L194.5,284.6 L195.5,285.9 L196.4,286.8 L197.4,287.4 L198.4,287.9 L199.3,288.2 L200.3,288.4 L200.3,288.6 L168.3,285.2Z" fill="url(#gBlu)" opacity="0.9"/>
<g fill="#fff" fill-opacity="0.6" stroke="#a6a6a6" stroke-width="0.55"><circle cx="31" cy="270" r="2.3"/><circle cx="33.4" cy="268.7" r="2.3"/><circle cx="34.8" cy="269.2" r="2.3"/><circle cx="37.3" cy="270.2" r="2.3"/><circle cx="40" cy="269.5" r="2.3"/><circle cx="42.1" cy="269.5" r="2.3"/><circle cx="43.8" cy="268.6" r="2.3"/><circle cx="46" cy="269.3" r="2.3"/><circle cx="48.1" cy="268.7" r="2.3"/><circle cx="50.3" cy="267.9" r="2.3"/><circle cx="52.8" cy="266.7" r="2.3"/><circle cx="55.6" cy="265.3" r="2.3"/><circle cx="56.9" cy="267.1" r="2.3"/><circle cx="59.6" cy="264.7" r="2.3"/><circle cx="62.4" cy="266.4" r="2.3"/><circle cx="63.5" cy="264.7" r="2.3"/><circle cx="65.8" cy="264.1" r="2.3"/><circle cx="68.5" cy="263.4" r="2.3"/><circle cx="70.8" cy="262.9" r="2.3"/><circle cx="72.4" cy="264.6" r="2.3"/><circle cx="74.9" cy="263.6" r="2.3"/><circle cx="77.3" cy="263.9" r="2.3"/><circle cx="79.3" cy="263.1" r="2.3"/><circle cx="81.9" cy="265.7" r="2.3"/><circle cx="84.4" cy="265.4" r="2.3"/><circle cx="85.8" cy="265.5" r="2.3"/><circle cx="88.4" cy="267.1" r="2.3"/><circle cx="89.9" cy="266.7" r="2.3"/><circle cx="92.4" cy="267.5" r="2.3"/><circle cx="95.2" cy="267.1" r="2.3"/><circle cx="96.4" cy="267.1" r="2.3"/><circle cx="99.1" cy="265.6" r="2.3"/><circle cx="101.1" cy="264.6" r="2.3"/><circle cx="103.5" cy="265.2" r="2.3"/><circle cx="105.3" cy="265" r="2.3"/><circle cx="107.6" cy="266.4" r="2.3"/><circle cx="109.6" cy="267.1" r="2.3"/><circle cx="112.2" cy="270.1" r="2.3"/><circle cx="114.1" cy="271.7" r="2.3"/><circle cx="116.5" cy="272.9" r="2.3"/><circle cx="119" cy="275.9" r="2.3"/><circle cx="121.2" cy="277" r="2.3"/><circle cx="123" cy="277.5" r="2.3"/><circle cx="125.4" cy="275.6" r="2.3"/><circle cx="128.1" cy="276.7" r="2.3"/><circle cx="129.4" cy="274.4" r="2.3"/><circle cx="132.5" cy="273.9" r="2.3"/><circle cx="134.1" cy="272.2" r="2.3"/><circle cx="136" cy="272.7" r="2.3"/><circle cx="139.4" cy="272.6" r="2.3"/><circle cx="141" cy="269.2" r="2.3"/><circle cx="143" cy="269.8" r="2.3"/><circle cx="145.8" cy="268.4" r="2.3"/><circle cx="147.3" cy="267.1" r="2.3"/><circle cx="149.8" cy="266.4" r="2.3"/><circle cx="151.7" cy="266.3" r="2.3"/><circle cx="154.7" cy="263.6" r="2.3"/><circle cx="156.1" cy="264.6" r="2.3"/><circle cx="158.3" cy="264.1" r="2.3"/><circle cx="160.8" cy="262.9" r="2.3"/><circle cx="163.2" cy="261.2" r="2.3"/><circle cx="164.9" cy="260.9" r="2.3"/><circle cx="167.6" cy="261.4" r="2.3"/><circle cx="169.2" cy="261.6" r="2.3"/><circle cx="171.7" cy="259.7" r="2.3"/><circle cx="173.9" cy="260.8" r="2.3"/><circle cx="176.3" cy="258.6" r="2.3"/><circle cx="178.9" cy="257.5" r="2.3"/><circle cx="180.9" cy="254.5" r="2.3"/><circle cx="182.9" cy="254.1" r="2.3"/><circle cx="185.3" cy="253.5" r="2.3"/><circle cx="187" cy="255.7" r="2.3"/><circle cx="189.7" cy="261" r="2.3"/><circle cx="191" cy="266.8" r="2.3"/><circle cx="194.3" cy="272.1" r="2.3"/><circle cx="196.5" cy="277.1" r="2.3"/><circle cx="198.2" cy="281.1" r="2.3"/><circle cx="200.3" cy="282.7" r="2.3"/><circle cx="202.4" cy="285.5" r="2.3"/><circle cx="205.3" cy="287.8" r="2.3"/><circle cx="207" cy="288.3" r="2.3"/><circle cx="208.7" cy="288.6" r="2.3"/><circle cx="211.6" cy="288.6" r="2.3"/><circle cx="213.3" cy="288.9" r="2.3"/><circle cx="215.6" cy="289.9" r="2.3"/><circle cx="217.6" cy="288.8" r="2.3"/><circle cx="220" cy="290.5" r="2.3"/></g>
<path d="M30,269.7 C32.1,269.6 38.1,269.6 42.6,269 C47.1,268.4 52.3,267 57.2,266.1 C62.1,265.2 67.7,264.1 71.8,263.9 C75.9,263.6 78.6,264 82,264.6 C85.4,265.2 88.8,267.5 92.2,267.5 C95.6,267.5 99.8,264.8 102.5,264.6 C105.2,264.4 106.1,264.8 108.3,266.1 C110.5,267.4 113.1,270.9 115.6,272.6 C118,274.3 120.5,276 123,276.4 C125.5,276.8 127.9,275.6 130.3,274.9 C132.7,274.2 134.7,273.3 137.6,272 C140.5,270.7 144.4,268.4 147.8,266.9 C151.2,265.4 154.8,264.2 158,263.2 C161.2,262.2 164.1,261.7 166.8,261.1 C169.5,260.5 171.9,260.6 174.1,259.6 C176.3,258.6 178.3,256.3 179.9,255.2 C181.5,254.1 182.4,252.9 183.6,253 C184.8,253.1 185.6,253.2 187.2,256 C188.8,258.8 191.1,265.6 193.1,269.8 C195.1,274.1 196.9,278.6 198.9,281.5 C200.9,284.4 201.9,286 204.8,287.3 C207.7,288.6 213.4,289 216.4,289.5 C219.4,290 221.9,290.2 223,290.3" fill="none" stroke="#787878" stroke-width="1.5"/>
<path d="M30,322.6 L31,322.6 L32,322.6 L33,322.6 L34,322.6 L35,322.6 L36,322.6 L37,322.6 L38,322.5 L39,322.5 L40,322.4 L41,322.3 L42,322.2 L43,322.1 L44,321.9 L45,321.8 L46,321.6 L47,321.4 L48,321.2 L49,321 L50,320.8 L51,320.6 L52,320.3 L53,320.1 L54,319.8 L55,319.6 L56,319.3 L57,319.1 L58,318.8 L59,318.6 L60,318.3 L61,318.1 L62,317.9 L63,317.7 L64,317.5 L65,317.4 L66,317.3 L67,317.2 L68,317.1 L69,317 L70,317 L71,317.1 L72,317.1 L73,317.2 L74,317.4 L75,317.5 L76,317.7 L77,318 L78,318.2 L78.9,318.5 L79.9,318.8 L80.9,319.2 L81.9,319.5 L82.9,319.9 L83.9,320.3 L84.9,320.8 L85.9,321.2 L86.9,321.6 L87.9,322.1 L88.9,322.5 L89.9,323 L90.9,323.4 L91.9,323.9 L92.9,324.3 L93.9,324.8 L94.9,325.2 L95.9,325.6 L96.9,326 L97.9,326.4 L98.9,326.8 L99.9,327.2 L100.9,327.5 L101.9,327.8 L102.9,328.2 L103.9,328.5 L104.9,328.8 L105.9,329 L106.9,329.3 L107.9,329.5 L108.9,329.8 L109.9,330 L110.9,330.2 L111.9,330.4 L112.9,330.6 L113.9,330.7 L114.9,330.9 L115.9,331.1 L116.9,331.2 L117.9,331.4 L118.9,331.5 L119.9,331.6 L120.9,331.8 L121.9,331.9 L122.9,332 L123.9,332.1 L124.9,332.3 L125.9,332.4 L126.9,332.5 L126.9,332.5 L30,323Z" fill="url(#gPur)" opacity="0.9"/>
<path d="M84.7,328.3 L85.7,328.4 L86.7,328.4 L87.7,328.4 L88.6,328.3 L89.6,328.2 L90.6,327.9 L91.6,327.6 L92.6,327.2 L93.6,326.6 L94.5,325.8 L95.5,325 L96.5,324 L97.5,322.9 L98.5,321.8 L99.5,320.8 L100.5,319.8 L101.4,319.1 L102.4,318.6 L103.4,318.4 L104.4,318.5 L105.4,318.9 L106.4,319.6 L107.3,320.5 L108.3,321.7 L109.3,322.9 L110.3,324.2 L111.3,325.4 L112.3,326.6 L113.3,327.7 L114.2,328.6 L115.2,329.4 L116.2,330 L117.2,330.6 L118.2,331 L119.2,331.3 L120.1,331.6 L121.1,331.8 L122.1,331.9 L123.1,332.1 L123.1,332.2 L84.7,328.4Z" fill="url(#gOra)" opacity="0.9"/>
<path d="M117.6,331.5 L118.6,331.6 L119.6,331.6 L120.6,331.7 L121.6,331.7 L122.6,331.8 L123.6,331.8 L124.6,331.8 L125.6,331.8 L126.6,331.8 L127.6,331.7 L128.6,331.6 L129.5,331.5 L130.5,331.4 L131.5,331.3 L132.5,331.1 L133.5,330.8 L134.5,330.6 L135.5,330.3 L136.5,329.9 L137.5,329.5 L138.5,329.1 L139.5,328.6 L140.5,328.1 L141.5,327.5 L142.5,326.9 L143.5,326.2 L144.5,325.5 L145.5,324.8 L146.5,324.1 L147.5,323.4 L148.5,322.6 L149.5,321.8 L150.5,321.1 L151.4,320.4 L152.4,319.7 L153.4,319 L154.4,318.4 L155.4,317.9 L156.4,317.4 L157.4,317 L158.4,316.6 L159.4,316.4 L160.4,316.2 L161.4,316.2 L162.4,316.2 L163.4,316.4 L164.4,316.6 L165.4,317 L166.4,317.4 L167.4,317.9 L168.4,318.5 L169.4,319.2 L170.4,320 L171.4,320.8 L172.4,321.6 L173.4,322.5 L174.3,323.5 L175.3,324.4 L176.3,325.3 L177.3,326.3 L178.3,327.2 L179.3,328.2 L180.3,329.1 L181.3,329.9 L182.3,330.8 L183.3,331.6 L184.3,332.4 L185.3,333.1 L186.3,333.8 L187.3,334.4 L188.3,335 L189.3,335.5 L190.3,336.1 L191.3,336.5 L192.3,336.9 L193.3,337.3 L194.3,337.7 L195.3,338 L196.2,338.3 L197.2,338.6 L198.2,338.8 L199.2,339 L200.2,339.2 L201.2,339.4 L202.2,339.6 L203.2,339.8 L204.2,339.9 L205.2,340.1 L206.2,340.2 L207.2,340.3 L207.2,340.4 L117.6,331.6Z" fill="url(#gGrn)" opacity="0.9"/>
<path d="M169,336.5 L170,336.5 L170.9,336.4 L171.9,336.1 L172.9,335.7 L173.8,335 L174.8,334 L175.8,332.6 L176.8,330.8 L177.7,328.6 L178.7,326 L179.7,323.1 L180.6,320.2 L181.6,317.4 L182.6,315.1 L183.5,313.4 L184.5,312.5 L185.5,312.6 L186.5,313.7 L187.4,315.6 L188.4,318.1 L189.4,321.1 L190.3,324.2 L191.3,327.2 L192.3,330 L193.2,332.4 L194.2,334.4 L195.2,336 L196.2,337.2 L197.1,338.1 L198.1,338.7 L199.1,339.1 L200,339.5 L201,339.7 L201,339.8 L169,336.7Z" fill="url(#gBlu)" opacity="0.9"/>
<g fill="#fff" fill-opacity="0.6" stroke="#a6a6a6" stroke-width="0.55"><circle cx="30.7" cy="322.3" r="2.3"/><circle cx="33.4" cy="322.6" r="2.3"/><circle cx="35" cy="321.3" r="2.3"/><circle cx="37.2" cy="321.2" r="2.3"/><circle cx="40.1" cy="320.8" r="2.3"/><circle cx="42" cy="320.8" r="2.3"/><circle cx="44" cy="320.9" r="2.3"/><circle cx="46.8" cy="320.9" r="2.3"/><circle cx="48" cy="319.8" r="2.3"/><circle cx="50.4" cy="320.5" r="2.3"/><circle cx="53.4" cy="319.9" r="2.3"/><circle cx="55.6" cy="319.3" r="2.3"/><circle cx="57.9" cy="318.9" r="2.3"/><circle cx="59.3" cy="318.6" r="2.3"/><circle cx="61.8" cy="317.9" r="2.3"/><circle cx="64.1" cy="316.7" r="2.3"/><circle cx="66" cy="316.2" r="2.3"/><circle cx="68.2" cy="315.2" r="2.3"/><circle cx="71" cy="316.2" r="2.3"/><circle cx="73.4" cy="315.7" r="2.3"/><circle cx="75.1" cy="315.6" r="2.3"/><circle cx="76.8" cy="315.4" r="2.3"/><circle cx="79.3" cy="314.5" r="2.3"/><circle cx="81.2" cy="315.3" r="2.3"/><circle cx="83.5" cy="315.4" r="2.3"/><circle cx="86.1" cy="315.7" r="2.3"/><circle cx="87.8" cy="316.5" r="2.3"/><circle cx="90.1" cy="316.6" r="2.3"/><circle cx="92.2" cy="317.3" r="2.3"/><circle cx="94.3" cy="317.8" r="2.3"/><circle cx="97.5" cy="316.8" r="2.3"/><circle cx="99.5" cy="317.2" r="2.3"/><circle cx="100.9" cy="315" r="2.3"/><circle cx="104" cy="316.1" r="2.3"/><circle cx="106" cy="315" r="2.3"/><circle cx="107.9" cy="317.2" r="2.3"/><circle cx="110.7" cy="318.4" r="2.3"/><circle cx="112" cy="320" r="2.3"/><circle cx="114.4" cy="321.7" r="2.3"/><circle cx="116.4" cy="324.4" r="2.3"/><circle cx="119.1" cy="325.7" r="2.3"/><circle cx="120.9" cy="327.2" r="2.3"/><circle cx="123.5" cy="328.6" r="2.3"/><circle cx="125.4" cy="329.6" r="2.3"/><circle cx="127.6" cy="328.6" r="2.3"/><circle cx="129.6" cy="328.8" r="2.3"/><circle cx="131.7" cy="327.1" r="2.3"/><circle cx="133.9" cy="327" r="2.3"/><circle cx="136.7" cy="325.7" r="2.3"/><circle cx="138.2" cy="324.3" r="2.3"/><circle cx="140.8" cy="322.4" r="2.3"/><circle cx="142.6" cy="323" r="2.3"/><circle cx="144.9" cy="320.3" r="2.3"/><circle cx="147.3" cy="319.6" r="2.3"/><circle cx="149.3" cy="318.1" r="2.3"/><circle cx="151.8" cy="317.7" r="2.3"/><circle cx="153.6" cy="315.7" r="2.3"/><circle cx="156.4" cy="316.1" r="2.3"/><circle cx="158.6" cy="314.5" r="2.3"/><circle cx="161" cy="313.6" r="2.3"/><circle cx="162.4" cy="313.8" r="2.3"/><circle cx="165.7" cy="314.1" r="2.3"/><circle cx="167.1" cy="314" r="2.3"/><circle cx="170" cy="313" r="2.3"/><circle cx="171.9" cy="312.7" r="2.3"/><circle cx="173.7" cy="311.7" r="2.3"/><circle cx="175.8" cy="310.7" r="2.3"/><circle cx="177.8" cy="309.5" r="2.3"/><circle cx="180.1" cy="308.7" r="2.3"/><circle cx="182.9" cy="305.5" r="2.3"/><circle cx="185.3" cy="305.5" r="2.3"/><circle cx="187.2" cy="308.3" r="2.3"/><circle cx="189.2" cy="312.5" r="2.3"/><circle cx="191.5" cy="318.3" r="2.3"/><circle cx="194.2" cy="323.4" r="2.3"/><circle cx="196.4" cy="328" r="2.3"/><circle cx="198" cy="331.9" r="2.3"/><circle cx="199.8" cy="333.8" r="2.3"/><circle cx="202.4" cy="336.1" r="2.3"/><circle cx="205.3" cy="338.4" r="2.3"/><circle cx="206.5" cy="338.5" r="2.3"/><circle cx="208.8" cy="339.8" r="2.3"/><circle cx="211.2" cy="340.6" r="2.3"/><circle cx="213.7" cy="339.6" r="2.3"/><circle cx="215.2" cy="340.4" r="2.3"/><circle cx="218.4" cy="340.6" r="2.3"/><circle cx="220.2" cy="341.3" r="2.3"/></g>
<path d="M30,322 C32.1,321.9 38.1,321.9 42.6,321.3 C47.1,320.7 52.3,319.4 57.2,318.4 C62.1,317.4 67.4,315.9 71.8,315.4 C76.2,314.9 79.8,315 83.5,315.4 C87.2,315.8 90.3,317.6 93.7,317.6 C97.1,317.6 101,315.3 103.9,315.4 C106.8,315.5 108.8,316.8 111.2,318.4 C113.6,320 116.2,323.1 118.5,324.9 C120.8,326.7 122.8,328.5 125,329 C127.2,329.5 129,328.9 131.8,327.8 C134.6,326.8 138.6,324.5 142,322.7 C145.4,320.9 149,318.3 152.2,316.9 C155.4,315.4 157.8,314.6 161,314 C164.2,313.4 168.3,313.9 171.2,313.2 C174.1,312.5 176.3,310.8 178.5,309.6 C180.7,308.4 182.7,306 184.3,306 C185.9,306 186.5,306.8 188,309.6 C189.5,312.4 191.3,318.8 193.1,322.7 C194.9,326.6 196.7,330.4 198.9,333 C201.1,335.6 203.3,336.8 206.2,338.1 C209.1,339.4 213.6,340.4 216.4,341 C219.2,341.6 221.9,341.6 223,341.7" fill="none" stroke="#787878" stroke-width="1.5"/>
<line x1="185.8" y1="199" x2="185.8" y2="329.5" stroke="#000" stroke-width="2.1" stroke-dasharray="4.5,2"/>
<line x1="183.5" y1="237" x2="183.5" y2="291" stroke="#000" stroke-width="2.1" stroke-dasharray="4.5,2"/>
</g>
<rect x="30" y="193.6" width="193" height="160.7" fill="none" stroke="#000" stroke-width="1.4"/>
<line x1="40.8" y1="354.3" x2="40.8" y2="357.8" stroke="#000" stroke-width="1.2" />
<line x1="91.6" y1="354.3" x2="91.6" y2="357.8" stroke="#000" stroke-width="1.2" />
<line x1="142.5" y1="354.3" x2="142.5" y2="357.8" stroke="#000" stroke-width="1.2" />
<line x1="193.3" y1="354.3" x2="193.3" y2="357.8" stroke="#000" stroke-width="1.2" />
<line x1="66.2" y1="354.3" x2="66.2" y2="356.3" stroke="#000" stroke-width="1.2" />
<line x1="117" y1="354.3" x2="117" y2="356.3" stroke="#000" stroke-width="1.2" />
<line x1="167.9" y1="354.3" x2="167.9" y2="356.3" stroke="#000" stroke-width="1.2" />
<line x1="218.7" y1="354.3" x2="218.7" y2="356.3" stroke="#000" stroke-width="1.2" />
<text x="44.4" y="371.2" font-size="11.5" text-anchor="middle" fill="#000" >810</text>
<text x="90.5" y="371.2" font-size="11.5" text-anchor="middle" fill="#000" >800</text>
<text x="142.3" y="371.2" font-size="11.5" text-anchor="middle" fill="#000" >790</text>
<text x="190.4" y="371.2" font-size="11.5" text-anchor="middle" fill="#000" >780</text>
<text x="129.4" y="381.7" font-size="12" text-anchor="middle" fill="#000" >Binding energy (eV)</text>
<text transform="translate(23.2,274.8) rotate(-90)" font-size="12" text-anchor="middle">Intensity (arb. units)</text>
<line x1="167.5" y1="242.8" x2="177.5" y2="242.8" stroke="#000" stroke-width="1.2" />
<path d="M180.5,242.8 L175.5,240.2 L175.5,245.4 Z" fill="#000"/>
<line x1="198.9" y1="242.8" x2="189.8" y2="242.8" stroke="#000" stroke-width="1.2" />
<path d="M186.8,242.8 L191.8,240.2 L191.8,245.4 Z" fill="#000"/>
<line x1="168.3" y1="285.3" x2="177.5" y2="285.3" stroke="#000" stroke-width="1.2" />
<path d="M180.5,285.3 L175.5,282.7 L175.5,287.9 Z" fill="#000"/>
<line x1="198.9" y1="285.3" x2="189.8" y2="285.3" stroke="#000" stroke-width="1.2" />
<path d="M186.8,285.3 L191.8,282.7 L191.8,287.9 Z" fill="#000"/>
<text x="33.8" y="208.9" font-size="12" text-anchor="start" fill="#000" >NU-1000@Co-HHTP-Light</text>
<text x="190" y="206" font-size="12" text-anchor="start" fill="#000" >Co 2p</text>
<text x="112.5" y="256.6" font-size="12" text-anchor="start" fill="#000" >-0.31 eV</text>
<text x="33.9" y="293.9" font-size="12" text-anchor="start" fill="#000" >NU-1000@Co-HHTP</text>
<text x="123.5" y="306.7" font-size="12" text-anchor="start" fill="#000" >+0.25 eV</text>
<text x="187.5" y="306.8" font-size="12">Co<tspan font-size="8.5" dy="-5">2+</tspan></text>
<text x="90" y="312.3" font-size="12" >2p<tspan font-size="8.5" dy="2.5">1/2</tspan></text>
<text x="63.9" y="329.3" font-size="12" text-anchor="start" fill="#000" >Sat.</text>
<text x="148.5" y="331.2" font-size="12" text-anchor="start" fill="#000" >Sat.</text>
<text x="190.4" y="330.8" font-size="12" >2p<tspan font-size="8.5" dy="2.5">3/2</tspan></text>
<text x="33.4" y="348.5" font-size="12" text-anchor="start" fill="#000" >Co-HHTP</text>
<text x="231.9" y="190.9" font-size="18" text-anchor="start" fill="#000" >e</text>
<clipPath id="ce"><rect x="257" y="194.1" width="192.9" height="159.7"/></clipPath>
<g clip-path="url(#ce)">
<path d="M276.7,244 L277.7,244 L278.7,243.9 L279.7,243.9 L280.7,243.8 L281.7,243.8 L282.7,243.7 L283.7,243.6 L284.7,243.4 L285.7,243.3 L286.7,243.1 L287.7,242.9 L288.6,242.7 L289.6,242.4 L290.6,242.1 L291.6,241.7 L292.6,241.3 L293.6,240.8 L294.6,240.3 L295.6,239.8 L296.6,239.2 L297.6,238.5 L298.6,237.8 L299.6,237 L300.6,236.1 L301.6,235.3 L302.6,234.3 L303.6,233.3 L304.6,232.3 L305.6,231.3 L306.6,230.2 L307.6,229.2 L308.6,228.1 L309.6,227 L310.5,226 L311.5,225 L312.5,224.1 L313.5,223.2 L314.5,222.4 L315.5,221.6 L316.5,221 L317.5,220.5 L318.5,220 L319.5,219.7 L320.5,219.6 L321.5,219.5 L322.5,219.6 L323.5,219.8 L324.5,220.1 L325.5,220.5 L326.5,221.1 L327.5,221.7 L328.5,222.5 L329.5,223.3 L330.5,224.2 L331.5,225.2 L332.5,226.2 L333.4,227.2 L334.4,228.3 L335.4,229.4 L336.4,230.5 L337.4,231.5 L338.4,232.6 L339.4,233.6 L340.4,234.6 L341.4,235.6 L342.4,236.5 L343.4,237.3 L344.4,238.1 L345.4,238.9 L346.4,239.5 L347.4,240.2 L348.4,240.8 L349.4,241.3 L350.4,241.7 L351.4,242.2 L352.4,242.5 L353.4,242.9 L354.4,243.2 L355.3,243.4 L356.3,243.6 L357.3,243.8 L358.3,244 L359.3,244.1 L360.3,244.3 L361.3,244.4 L362.3,244.5 L363.3,244.5 L364.3,244.6 L365.3,244.7 L366.3,244.7 L366.3,244.8 L276.7,244.2Z" fill="url(#gGrn)" opacity="0.9"/>
<path d="M337.2,244.4 L338.2,244.4 L339.2,244.3 L340.2,244.2 L341.2,244.1 L342.2,244 L343.1,243.8 L344.1,243.6 L345.1,243.4 L346.1,243.1 L347.1,242.8 L348.1,242.4 L349.1,242 L350.1,241.5 L351.1,240.9 L352.1,240.3 L353,239.5 L354,238.7 L355,237.8 L356,236.8 L357,235.7 L358,234.5 L359,233.2 L360,231.8 L361,230.4 L362,228.8 L363,227.2 L363.9,225.6 L364.9,223.9 L365.9,222.2 L366.9,220.5 L367.9,218.8 L368.9,217.2 L369.9,215.6 L370.9,214.2 L371.9,212.8 L372.9,211.6 L373.8,210.5 L374.8,209.6 L375.8,208.9 L376.8,208.4 L377.8,208 L378.8,207.9 L379.8,208.1 L380.8,208.4 L381.8,208.9 L382.8,209.7 L383.8,210.6 L384.7,211.7 L385.7,212.9 L386.7,214.3 L387.7,215.8 L388.7,217.3 L389.7,219 L390.7,220.7 L391.7,222.4 L392.7,224.1 L393.7,225.8 L394.6,227.5 L395.6,229.1 L396.6,230.6 L397.6,232.1 L398.6,233.5 L399.6,234.8 L400.6,236 L401.6,237.2 L402.6,238.2 L403.6,239.1 L404.6,239.9 L405.5,240.7 L406.5,241.4 L407.5,241.9 L408.5,242.5 L409.5,242.9 L410.5,243.3 L411.5,243.6 L412.5,243.9 L413.5,244.2 L414.5,244.4 L415.4,244.5 L416.4,244.7 L417.4,244.8 L418.4,244.9 L419.4,245 L420.4,245 L420.4,245.3 L337.2,244.6Z" fill="url(#gBlu)" opacity="0.9"/>
<g fill="#fff" fill-opacity="0.6" stroke="#a6a6a6" stroke-width="0.55"><circle cx="256.6" cy="244.4" r="2.2"/><circle cx="259.6" cy="244" r="2.2"/><circle cx="261.5" cy="244.6" r="2.2"/><circle cx="264.6" cy="244.1" r="2.2"/><circle cx="266.6" cy="243.5" r="2.2"/><circle cx="268.4" cy="243.8" r="2.2"/><circle cx="271.5" cy="243.2" r="2.2"/><circle cx="274.2" cy="243.5" r="2.2"/><circle cx="275.9" cy="243.1" r="2.2"/><circle cx="279.2" cy="244.4" r="2.2"/><circle cx="281.5" cy="244" r="2.2"/><circle cx="282.8" cy="243.3" r="2.2"/><circle cx="285.8" cy="242.5" r="2.2"/><circle cx="288.7" cy="242.5" r="2.2"/><circle cx="290.2" cy="242.7" r="2.2"/><circle cx="292.5" cy="242" r="2.2"/><circle cx="295.3" cy="240" r="2.2"/><circle cx="297.6" cy="238.3" r="2.2"/><circle cx="299.8" cy="235.6" r="2.2"/><circle cx="303" cy="233.8" r="2.2"/><circle cx="305.3" cy="231.3" r="2.2"/><circle cx="308" cy="230.1" r="2.2"/><circle cx="310.1" cy="227.3" r="2.2"/><circle cx="312.3" cy="224.8" r="2.2"/><circle cx="314.1" cy="222.3" r="2.2"/><circle cx="317.4" cy="220.1" r="2.2"/><circle cx="319.9" cy="220.5" r="2.2"/><circle cx="321.7" cy="219.2" r="2.2"/><circle cx="324.1" cy="219.8" r="2.2"/><circle cx="327.2" cy="220.9" r="2.2"/><circle cx="328.4" cy="222.1" r="2.2"/><circle cx="331.7" cy="226" r="2.2"/><circle cx="333.8" cy="227.5" r="2.2"/><circle cx="336.3" cy="230.5" r="2.2"/><circle cx="338.3" cy="232.7" r="2.2"/><circle cx="341.1" cy="234.9" r="2.2"/><circle cx="343" cy="235.7" r="2.2"/><circle cx="345.6" cy="238.5" r="2.2"/><circle cx="348" cy="238.5" r="2.2"/><circle cx="350.4" cy="237.5" r="2.2"/><circle cx="352.5" cy="238.2" r="2.2"/><circle cx="355.7" cy="235.9" r="2.2"/><circle cx="358" cy="234.2" r="2.2"/><circle cx="360.7" cy="231.9" r="2.2"/><circle cx="362.5" cy="228.4" r="2.2"/><circle cx="365.6" cy="223.8" r="2.2"/><circle cx="367.9" cy="219.5" r="2.2"/><circle cx="369.7" cy="215.2" r="2.2"/><circle cx="372.7" cy="211.7" r="2.2"/><circle cx="374.1" cy="210.4" r="2.2"/><circle cx="377.3" cy="208.3" r="2.2"/><circle cx="379.8" cy="207.1" r="2.2"/><circle cx="381.5" cy="208.5" r="2.2"/><circle cx="384.1" cy="210.4" r="2.2"/><circle cx="386.1" cy="213.8" r="2.2"/><circle cx="389.5" cy="218.8" r="2.2"/><circle cx="391.7" cy="221.9" r="2.2"/><circle cx="393.5" cy="227" r="2.2"/><circle cx="396.2" cy="230.4" r="2.2"/><circle cx="398" cy="232.9" r="2.2"/><circle cx="401.4" cy="237.1" r="2.2"/><circle cx="403.9" cy="239.2" r="2.2"/><circle cx="405.7" cy="241" r="2.2"/><circle cx="408.6" cy="241.9" r="2.2"/><circle cx="410.6" cy="242.9" r="2.2"/><circle cx="413.3" cy="243.1" r="2.2"/><circle cx="415.6" cy="245.4" r="2.2"/><circle cx="417.2" cy="245" r="2.2"/><circle cx="420.4" cy="245.7" r="2.2"/><circle cx="422.7" cy="244.7" r="2.2"/><circle cx="424.9" cy="246.2" r="2.2"/><circle cx="427.9" cy="244.6" r="2.2"/><circle cx="429.3" cy="244.5" r="2.2"/><circle cx="431.6" cy="245.2" r="2.2"/><circle cx="434.2" cy="246.1" r="2.2"/><circle cx="437.2" cy="244.6" r="2.2"/><circle cx="439.4" cy="245.1" r="2.2"/><circle cx="441.8" cy="244.9" r="2.2"/><circle cx="443.8" cy="244.8" r="2.2"/><circle cx="446.5" cy="245.9" r="2.2"/><circle cx="449.1" cy="244.6" r="2.2"/></g>
<path d="M256,244 C256.5,244 258,244 259,244 C260,244 261,244 262,244 C263,244 264,244.1 265,244.1 C266,244.1 267,244.1 268,244.1 C269,244.1 270,244.1 271,244.1 C272,244.1 273,244.1 274,244.1 C275,244 276,244 277,244 C278,244 279,243.9 280,243.9 C281,243.8 282,243.7 283,243.6 C284,243.5 285,243.4 286,243.2 C287,243 288,242.8 289,242.6 C290,242.3 291,242 292,241.6 C293,241.2 294,240.7 295,240.1 C296,239.6 297,238.9 298,238.2 C299,237.5 300,236.7 301,235.8 C302,234.9 303,233.9 304,232.9 C305,231.9 306,230.8 307,229.8 C308,228.7 309,227.6 310,226.6 C311,225.6 312,224.5 313,223.6 C314,222.8 315,221.9 316,221.3 C317,220.7 318,220.2 319,219.9 C320,219.6 321,219.5 322,219.5 C323,219.6 324,219.9 325,220.3 C326,220.7 327,221.4 328,222.1 C329,222.8 330,223.7 331,224.7 C332,225.6 333,226.7 334,227.7 C335,228.8 336,229.9 337,230.9 C338,231.9 339,232.9 340,233.8 C341,234.7 342,235.5 343,236.1 C344,236.8 345,237.4 346,237.8 C347,238.1 348,238.4 349,238.4 C350,238.4 351,238.3 352,238 C353,237.7 354,237.1 355,236.4 C356,235.7 357,234.8 358,233.7 C359,232.6 360,231.3 361,229.8 C362,228.4 363,226.8 364,225.2 C365,223.6 366,221.9 367,220.2 C368,218.6 369,216.9 370,215.4 C371,213.9 372,212.5 373,211.4 C374,210.3 375,209.3 376,208.8 C377,208.2 378,207.9 379,207.9 C380,208 381,208.4 382,209.1 C383,209.7 384,210.8 385,212 C386,213.2 387,214.7 388,216.2 C389,217.8 390,219.5 391,221.2 C392,222.9 393,224.7 394,226.4 C395,228 396,229.7 397,231.2 C398,232.7 399,234.1 400,235.3 C401,236.6 402,237.6 403,238.6 C404,239.5 405,240.3 406,241 C407,241.7 408,242.2 409,242.7 C410,243.1 411,243.5 412,243.8 C413,244.1 414,244.3 415,244.5 C416,244.6 417,244.8 418,244.9 C419,245 420,245 421,245.1 C422,245.1 423,245.2 424,245.2 C425,245.2 426,245.3 427,245.3 C428,245.3 429,245.3 430,245.3 C431,245.3 432,245.3 433,245.4 C434,245.4 435,245.4 436,245.4 C437,245.4 438,245.4 439,245.4 C440,245.4 441,245.4 442,245.4 C443,245.4 444,245.4 445,245.5 C446,245.5 447,245.5 448,245.5 C449,245.5 450.5,245.5 451,245.5" fill="none" stroke="#787878" stroke-width="1.5"/>
<path d="M277.7,286.4 L278.7,286.3 L279.7,286.3 L280.7,286.3 L281.7,286.3 L282.7,286.2 L283.7,286.2 L284.7,286.1 L285.7,286.1 L286.6,286 L287.6,285.9 L288.6,285.7 L289.6,285.6 L290.6,285.4 L291.6,285.2 L292.6,285 L293.6,284.8 L294.6,284.5 L295.6,284.2 L296.6,283.8 L297.6,283.4 L298.6,283 L299.6,282.5 L300.6,282 L301.6,281.5 L302.6,280.9 L303.5,280.3 L304.5,279.6 L305.5,278.9 L306.5,278.1 L307.5,277.4 L308.5,276.5 L309.5,275.7 L310.5,274.9 L311.5,274 L312.5,273.1 L313.5,272.2 L314.5,271.4 L315.5,270.5 L316.5,269.6 L317.5,268.8 L318.5,268 L319.5,267.3 L320.4,266.6 L321.4,266 L322.4,265.4 L323.4,264.9 L324.4,264.5 L325.4,264.2 L326.4,263.9 L327.4,263.8 L328.4,263.7 L329.4,263.7 L330.4,263.8 L331.4,264 L332.4,264.3 L333.4,264.7 L334.4,265.2 L335.4,265.7 L336.4,266.3 L337.4,267 L338.3,267.7 L339.3,268.5 L340.3,269.4 L341.3,270.2 L342.3,271.1 L343.3,272 L344.3,272.9 L345.3,273.9 L346.3,274.8 L347.3,275.7 L348.3,276.6 L349.3,277.5 L350.3,278.3 L351.3,279.2 L352.3,280 L353.3,280.7 L354.3,281.4 L355.2,282.1 L356.2,282.7 L357.2,283.3 L358.2,283.9 L359.2,284.4 L360.2,284.9 L361.2,285.3 L362.2,285.7 L363.2,286.1 L364.2,286.4 L365.2,286.7 L366.2,287 L367.2,287.2 L368.2,287.4 L369.2,287.6 L370.2,287.8 L371.2,287.9 L372.1,288.1 L373.1,288.2 L374.1,288.3 L375.1,288.4 L376.1,288.5 L377.1,288.5 L378.1,288.6 L379.1,288.7 L380.1,288.7 L380.1,288.9 L277.7,286.5Z" fill="url(#gGrn)" opacity="0.9"/>
<path d="M336.8,287.7 L337.8,287.6 L338.8,287.6 L339.8,287.6 L340.8,287.5 L341.8,287.4 L342.8,287.4 L343.8,287.3 L344.8,287.1 L345.7,287 L346.7,286.8 L347.7,286.6 L348.7,286.4 L349.7,286.2 L350.7,285.9 L351.7,285.5 L352.7,285.2 L353.7,284.7 L354.7,284.3 L355.7,283.7 L356.7,283.2 L357.7,282.5 L358.7,281.8 L359.7,281.1 L360.7,280.3 L361.7,279.4 L362.6,278.5 L363.6,277.5 L364.6,276.5 L365.6,275.4 L366.6,274.2 L367.6,273 L368.6,271.8 L369.6,270.5 L370.6,269.3 L371.6,268 L372.6,266.7 L373.6,265.4 L374.6,264.1 L375.6,262.9 L376.6,261.7 L377.6,260.5 L378.6,259.4 L379.5,258.4 L380.5,257.5 L381.5,256.6 L382.5,255.9 L383.5,255.3 L384.5,254.8 L385.5,254.4 L386.5,254.2 L387.5,254.1 L388.5,254.1 L389.5,254.2 L390.5,254.5 L391.5,254.9 L392.5,255.5 L393.5,256.2 L394.5,256.9 L395.5,257.8 L396.5,258.8 L397.4,259.9 L398.4,261 L399.4,262.2 L400.4,263.4 L401.4,264.7 L402.4,266.1 L403.4,267.4 L404.4,268.7 L405.4,270.1 L406.4,271.4 L407.4,272.7 L408.4,274 L409.4,275.2 L410.4,276.4 L411.4,277.5 L412.4,278.6 L413.4,279.7 L414.3,280.6 L415.3,281.5 L416.3,282.4 L417.3,283.2 L418.3,283.9 L419.3,284.6 L420.3,285.2 L421.3,285.8 L422.3,286.3 L423.3,286.8 L424.3,287.2 L425.3,287.6 L426.3,287.9 L427.3,288.2 L428.3,288.5 L429.3,288.7 L430.3,289 L431.2,289.1 L432.2,289.3 L433.2,289.4 L434.2,289.6 L435.2,289.7 L436.2,289.8 L437.2,289.9 L438.2,290 L439.2,290 L439.2,290.2 L336.8,287.9Z" fill="url(#gBlu)" opacity="0.9"/>
<g fill="#fff" fill-opacity="0.6" stroke="#a6a6a6" stroke-width="0.55"><circle cx="257.5" cy="283.9" r="2.6"/><circle cx="259.6" cy="289.1" r="2.6"/><circle cx="263" cy="283.9" r="2.6"/><circle cx="266.8" cy="285.3" r="2.6"/><circle cx="270.3" cy="284.7" r="2.6"/><circle cx="273.6" cy="285.3" r="2.6"/><circle cx="276.3" cy="289" r="2.6"/><circle cx="279.6" cy="288.9" r="2.6"/><circle cx="282.8" cy="283.5" r="2.6"/><circle cx="286.3" cy="286.6" r="2.6"/><circle cx="288.8" cy="283.8" r="2.6"/><circle cx="292.6" cy="285.6" r="2.6"/><circle cx="295.9" cy="285.9" r="2.6"/><circle cx="299.2" cy="283.4" r="2.6"/><circle cx="302" cy="282" r="2.6"/><circle cx="304.7" cy="282" r="2.6"/><circle cx="308" cy="278.5" r="2.6"/><circle cx="311.9" cy="275" r="2.6"/><circle cx="314.2" cy="273.2" r="2.6"/><circle cx="318" cy="266.7" r="2.6"/><circle cx="320.5" cy="266.4" r="2.6"/><circle cx="323.6" cy="267.1" r="2.6"/><circle cx="327.4" cy="263.8" r="2.6"/><circle cx="330.5" cy="264.8" r="2.6"/><circle cx="334.3" cy="263.6" r="2.6"/><circle cx="336.8" cy="267" r="2.6"/><circle cx="340" cy="269.4" r="2.6"/><circle cx="343.5" cy="271" r="2.6"/><circle cx="346.8" cy="274" r="2.6"/><circle cx="349.3" cy="278.9" r="2.6"/><circle cx="352.8" cy="276.9" r="2.6"/><circle cx="356.1" cy="280.4" r="2.6"/><circle cx="359.9" cy="277.5" r="2.6"/><circle cx="362.5" cy="273.5" r="2.6"/><circle cx="366.3" cy="271.5" r="2.6"/><circle cx="369.1" cy="269.4" r="2.6"/><circle cx="372" cy="265.7" r="2.6"/><circle cx="375" cy="260" r="2.6"/><circle cx="378.6" cy="261" r="2.6"/><circle cx="382" cy="254.5" r="2.6"/><circle cx="385.2" cy="251.8" r="2.6"/><circle cx="388.1" cy="256" r="2.6"/><circle cx="391.9" cy="254.7" r="2.6"/><circle cx="395" cy="257" r="2.6"/><circle cx="397.8" cy="260.8" r="2.6"/><circle cx="401.6" cy="265.6" r="2.6"/><circle cx="404.2" cy="269.8" r="2.6"/><circle cx="407.6" cy="271.8" r="2.6"/><circle cx="410.9" cy="278.6" r="2.6"/><circle cx="413.9" cy="282.8" r="2.6"/><circle cx="416.4" cy="282.9" r="2.6"/><circle cx="420.4" cy="284.2" r="2.6"/><circle cx="423" cy="288" r="2.6"/><circle cx="426.5" cy="286.6" r="2.6"/><circle cx="429.3" cy="291.7" r="2.6"/><circle cx="432.8" cy="287.1" r="2.6"/><circle cx="435.9" cy="288.3" r="2.6"/><circle cx="439.8" cy="288.1" r="2.6"/><circle cx="442.3" cy="287.8" r="2.6"/><circle cx="445.8" cy="288.6" r="2.6"/><circle cx="448.8" cy="291.8" r="2.6"/></g>
<path d="M256,286 C256.5,286 258,286 259,286.1 C260,286.1 261,286.1 262,286.1 C263,286.2 264,286.2 265,286.2 C266,286.2 267,286.2 268,286.3 C269,286.3 270,286.3 271,286.3 C272,286.3 273,286.3 274,286.3 C275,286.4 276,286.4 277,286.4 C278,286.4 279,286.4 280,286.3 C281,286.3 282,286.3 283,286.2 C284,286.2 285,286.1 286,286 C287,285.9 288,285.8 289,285.7 C290,285.5 291,285.4 292,285.2 C293,284.9 294,284.7 295,284.4 C296,284 297,283.7 298,283.3 C299,282.8 300,282.3 301,281.8 C302,281.2 303,280.6 304,280 C305,279.3 306,278.5 307,277.8 C308,277 309,276.2 310,275.3 C311,274.4 312,273.5 313,272.7 C314,271.8 315,270.9 316,270 C317,269.2 318,268.4 319,267.6 C320,266.9 321,266.2 322,265.6 C323,265.1 324,264.6 325,264.3 C326,263.9 327,263.7 328,263.7 C329,263.6 330,263.7 331,263.9 C332,264.1 333,264.4 334,264.9 C335,265.3 336,265.9 337,266.5 C338,267.2 339,267.9 340,268.7 C341,269.4 342,270.3 343,271.1 C344,271.8 345,272.7 346,273.4 C347,274.1 348,274.9 349,275.4 C350,276 351,276.6 352,277 C353,277.4 354,277.6 355,277.8 C356,277.9 357,277.9 358,277.7 C359,277.6 360,277.2 361,276.8 C362,276.3 363,275.7 364,275 C365,274.2 366,273.3 367,272.4 C368,271.4 369,270.3 370,269.2 C371,268 372,266.8 373,265.6 C374,264.4 375,263.2 376,262 C377,260.9 378,259.8 379,258.8 C380,257.8 381,256.9 382,256.2 C383,255.5 384,254.9 385,254.5 C386,254.2 387,254 388,254 C389,254 390,254.3 391,254.7 C392,255.1 393,255.8 394,256.6 C395,257.3 396,258.3 397,259.4 C398,260.4 399,261.7 400,262.9 C401,264.1 402,265.5 403,266.8 C404,268.2 405,269.6 406,270.9 C407,272.2 408,273.5 409,274.7 C410,276 411,277.2 412,278.2 C413,279.3 414,280.3 415,281.2 C416,282.2 417,283 418,283.7 C419,284.4 420,285.1 421,285.6 C422,286.2 423,286.7 424,287.1 C425,287.5 426,287.9 427,288.2 C428,288.5 429,288.7 430,288.9 C431,289.1 432,289.3 433,289.4 C434,289.6 435,289.7 436,289.8 C437,289.9 438,289.9 439,290 C440,290.1 441,290.1 442,290.2 C443,290.2 444,290.3 445,290.3 C446,290.3 447,290.4 448,290.4 C449,290.4 450.5,290.5 451,290.5" fill="none" stroke="#787878" stroke-width="1.5"/>
<path d="M280.2,348.4 L281.2,348.4 L282.2,348.3 L283.2,348.2 L284.2,348.2 L285.2,348.1 L286.2,348 L287.2,347.8 L288.1,347.7 L289.1,347.5 L290.1,347.3 L291.1,347 L292.1,346.7 L293.1,346.4 L294.1,346 L295.1,345.6 L296.1,345.1 L297.1,344.5 L298.1,343.9 L299.1,343.2 L300.1,342.5 L301.1,341.7 L302,340.8 L303,339.9 L304,338.9 L305,337.8 L306,336.7 L307,335.6 L308,334.4 L309,333.2 L310,332 L311,330.8 L312,329.6 L313,328.4 L314,327.3 L315,326.2 L316,325.2 L316.9,324.3 L317.9,323.5 L318.9,322.8 L319.9,322.3 L320.9,321.8 L321.9,321.5 L322.9,321.4 L323.9,321.4 L324.9,321.5 L325.9,321.8 L326.9,322.3 L327.9,322.8 L328.9,323.5 L329.9,324.3 L330.8,325.2 L331.8,326.2 L332.8,327.3 L333.8,328.4 L334.8,329.6 L335.8,330.8 L336.8,332 L337.8,333.3 L338.8,334.5 L339.8,335.6 L340.8,336.8 L341.8,337.9 L342.8,339 L343.8,340 L344.8,340.9 L345.7,341.8 L346.7,342.6 L347.7,343.4 L348.7,344 L349.7,344.7 L350.7,345.2 L351.7,345.7 L352.7,346.2 L353.7,346.5 L354.7,346.9 L355.7,347.2 L356.7,347.4 L357.7,347.7 L358.7,347.9 L359.6,348 L360.6,348.2 L361.6,348.3 L362.6,348.4 L363.6,348.5 L364.6,348.5 L365.6,348.6 L366.6,348.6 L366.6,348.8 L280.2,348.6Z" fill="url(#gGrn)" opacity="0.9"/>
<path d="M337.2,348.5 L338.2,348.4 L339.2,348.3 L340.2,348.3 L341.2,348.1 L342.2,348 L343.2,347.8 L344.2,347.7 L345.1,347.4 L346.1,347.2 L347.1,346.8 L348.1,346.5 L349.1,346.1 L350.1,345.6 L351.1,345 L352.1,344.4 L353.1,343.7 L354.1,342.9 L355.1,342 L356.1,341 L357.1,339.9 L358.1,338.8 L359,337.5 L360,336.2 L361,334.7 L362,333.2 L363,331.6 L364,330 L365,328.3 L366,326.5 L367,324.8 L368,323 L369,321.3 L370,319.6 L371,318 L372,316.5 L373,315 L373.9,313.7 L374.9,312.6 L375.9,311.6 L376.9,310.8 L377.9,310.2 L378.9,309.8 L379.9,309.5 L380.9,309.5 L381.9,309.8 L382.9,310.2 L383.9,310.8 L384.9,311.6 L385.9,312.6 L386.9,313.8 L387.8,315.1 L388.8,316.5 L389.8,318.1 L390.8,319.7 L391.8,321.4 L392.8,323.1 L393.8,324.9 L394.8,326.6 L395.8,328.3 L396.8,330 L397.8,331.7 L398.8,333.3 L399.8,334.8 L400.8,336.3 L401.8,337.6 L402.7,338.9 L403.7,340.1 L404.7,341.1 L405.7,342.1 L406.7,343 L407.7,343.8 L408.7,344.5 L409.7,345.2 L410.7,345.7 L411.7,346.2 L412.7,346.6 L413.7,347 L414.7,347.3 L415.7,347.6 L416.6,347.8 L417.6,348 L418.6,348.2 L419.6,348.3 L420.6,348.5 L421.6,348.6 L422.6,348.6 L423.6,348.7 L423.6,348.9 L337.2,348.7Z" fill="url(#gBlu)" opacity="0.9"/>
<g fill="#fff" fill-opacity="0.6" stroke="#a6a6a6" stroke-width="0.55"><circle cx="257.5" cy="349" r="2.2"/><circle cx="259.5" cy="348" r="2.2"/><circle cx="261.1" cy="348.4" r="2.2"/><circle cx="263" cy="348.1" r="2.2"/><circle cx="264.6" cy="348.5" r="2.2"/><circle cx="266.7" cy="348.5" r="2.2"/><circle cx="268.4" cy="348" r="2.2"/><circle cx="271.3" cy="348.4" r="2.2"/><circle cx="273" cy="348.8" r="2.2"/><circle cx="274.8" cy="348" r="2.2"/><circle cx="277.3" cy="348.6" r="2.2"/><circle cx="279.2" cy="348.6" r="2.2"/><circle cx="281.6" cy="348.2" r="2.2"/><circle cx="283.3" cy="348.1" r="2.2"/><circle cx="285.1" cy="348.3" r="2.2"/><circle cx="286.8" cy="347.4" r="2.2"/><circle cx="289" cy="347.8" r="2.2"/><circle cx="291.1" cy="347" r="2.2"/><circle cx="293.2" cy="346" r="2.2"/><circle cx="294.6" cy="345.4" r="2.2"/><circle cx="297.4" cy="344.2" r="2.2"/><circle cx="298.5" cy="342.8" r="2.2"/><circle cx="300.4" cy="341.5" r="2.2"/><circle cx="303.1" cy="340.3" r="2.2"/><circle cx="304.8" cy="337.7" r="2.2"/><circle cx="306.7" cy="335.3" r="2.2"/><circle cx="309.3" cy="333.2" r="2.2"/><circle cx="310.7" cy="330.3" r="2.2"/><circle cx="313.3" cy="328.6" r="2.2"/><circle cx="315.4" cy="325.8" r="2.2"/><circle cx="317.1" cy="324.8" r="2.2"/><circle cx="319.1" cy="323.3" r="2.2"/><circle cx="320.6" cy="322.4" r="2.2"/><circle cx="322.5" cy="321.3" r="2.2"/><circle cx="324.4" cy="321.9" r="2.2"/><circle cx="327.2" cy="322.9" r="2.2"/><circle cx="329.4" cy="324.1" r="2.2"/><circle cx="331" cy="325.9" r="2.2"/><circle cx="333.3" cy="327.2" r="2.2"/><circle cx="335.6" cy="329.5" r="2.2"/><circle cx="336.6" cy="331.5" r="2.2"/><circle cx="339" cy="334" r="2.2"/><circle cx="341.5" cy="337" r="2.2"/><circle cx="342.7" cy="337.9" r="2.2"/><circle cx="345" cy="339.5" r="2.2"/><circle cx="347.1" cy="341.3" r="2.2"/><circle cx="348.7" cy="341.5" r="2.2"/><circle cx="351.5" cy="341.6" r="2.2"/><circle cx="352.8" cy="341.7" r="2.2"/><circle cx="355.4" cy="340.8" r="2.2"/><circle cx="357.2" cy="338.7" r="2.2"/><circle cx="359.2" cy="337.1" r="2.2"/><circle cx="361.2" cy="333.9" r="2.2"/><circle cx="362.8" cy="331.2" r="2.2"/><circle cx="365.3" cy="328.1" r="2.2"/><circle cx="367.1" cy="325" r="2.2"/><circle cx="368.5" cy="321.3" r="2.2"/><circle cx="370.8" cy="318" r="2.2"/><circle cx="373.4" cy="314.6" r="2.2"/><circle cx="375.5" cy="312" r="2.2"/><circle cx="377.1" cy="310.8" r="2.2"/><circle cx="378.7" cy="309.8" r="2.2"/><circle cx="381" cy="309.5" r="2.2"/><circle cx="383.3" cy="309.7" r="2.2"/><circle cx="384.9" cy="312.1" r="2.2"/><circle cx="386.6" cy="314.4" r="2.2"/><circle cx="388.6" cy="317" r="2.2"/><circle cx="390.6" cy="319.9" r="2.2"/><circle cx="392.9" cy="322.9" r="2.2"/><circle cx="395.2" cy="326.9" r="2.2"/><circle cx="397.2" cy="330.5" r="2.2"/><circle cx="399.1" cy="333.7" r="2.2"/><circle cx="400.8" cy="337.1" r="2.2"/><circle cx="402.5" cy="339.6" r="2.2"/><circle cx="405.4" cy="341.4" r="2.2"/><circle cx="407.3" cy="343.5" r="2.2"/><circle cx="409.1" cy="344.5" r="2.2"/><circle cx="410.8" cy="345.7" r="2.2"/><circle cx="412.8" cy="347.3" r="2.2"/><circle cx="414.8" cy="347.3" r="2.2"/><circle cx="416.9" cy="348.3" r="2.2"/><circle cx="419" cy="348.3" r="2.2"/><circle cx="420.7" cy="348.2" r="2.2"/><circle cx="422.5" cy="348.3" r="2.2"/><circle cx="424.7" cy="349.2" r="2.2"/><circle cx="427" cy="348.4" r="2.2"/><circle cx="429" cy="348.4" r="2.2"/><circle cx="431.1" cy="348.8" r="2.2"/><circle cx="433.4" cy="348.6" r="2.2"/><circle cx="435.4" cy="348.6" r="2.2"/><circle cx="437.6" cy="349.1" r="2.2"/><circle cx="438.5" cy="349.3" r="2.2"/><circle cx="440.7" cy="348.8" r="2.2"/><circle cx="442.6" cy="349.4" r="2.2"/><circle cx="444.5" cy="349.3" r="2.2"/><circle cx="446.9" cy="349.2" r="2.2"/><circle cx="448.8" cy="348.5" r="2.2"/></g>
<path d="M256,348.5 C256.5,348.5 258,348.5 259,348.5 C260,348.5 261,348.5 262,348.5 C263,348.5 264,348.5 265,348.5 C266,348.5 267,348.5 268,348.5 C269,348.5 270,348.5 271,348.5 C272,348.5 273,348.5 274,348.5 C275,348.5 276,348.5 277,348.5 C278,348.5 279,348.4 280,348.4 C281,348.4 282,348.3 283,348.3 C284,348.2 285,348.1 286,348 C287,347.9 288,347.7 289,347.5 C290,347.3 291,347.1 292,346.8 C293,346.4 294,346.1 295,345.6 C296,345.1 297,344.6 298,344 C299,343.3 300,342.6 301,341.7 C302,340.9 303,339.9 304,338.9 C305,337.9 306,336.7 307,335.6 C308,334.4 309,333.2 310,332 C311,330.8 312,329.5 313,328.4 C314,327.2 315,326.1 316,325.2 C317,324.2 318,323.4 319,322.8 C320,322.2 321,321.7 322,321.5 C323,321.3 324,321.3 325,321.6 C326,321.8 327,322.3 328,322.9 C329,323.5 330,324.4 331,325.3 C332,326.3 333,327.4 334,328.5 C335,329.7 336,330.9 337,332 C338,333.2 339,334.4 340,335.5 C341,336.5 342,337.5 343,338.4 C344,339.2 345,339.9 346,340.5 C347,341 348,341.4 349,341.6 C350,341.8 351,341.8 352,341.6 C353,341.3 354,340.9 355,340.3 C356,339.7 357,338.8 358,337.8 C359,336.8 360,335.6 361,334.2 C362,332.9 363,331.3 364,329.7 C365,328.1 366,326.3 367,324.6 C368,322.9 369,321.1 370,319.5 C371,317.9 372,316.3 373,315 C374,313.6 375,312.4 376,311.5 C377,310.7 378,310 379,309.7 C380,309.4 381,309.5 382,309.8 C383,310.1 384,310.8 385,311.7 C386,312.7 387,313.9 388,315.3 C389,316.7 390,318.3 391,320 C392,321.6 393,323.5 394,325.2 C395,326.9 396,328.7 397,330.4 C398,332.1 399,333.7 400,335.2 C401,336.6 402,338 403,339.2 C404,340.4 405,341.5 406,342.4 C407,343.3 408,344.1 409,344.7 C410,345.4 411,345.9 412,346.4 C413,346.8 414,347.1 415,347.4 C416,347.7 417,347.9 418,348.1 C419,348.3 420,348.4 421,348.5 C422,348.6 423,348.7 424,348.7 C425,348.8 426,348.8 427,348.8 C428,348.9 429,348.9 430,348.9 C431,348.9 432,348.9 433,348.9 C434,348.9 435,348.9 436,349 C437,349 438,349 439,349 C440,349 441,349 442,349 C443,349 444,349 445,349 C446,349 447,349 448,349 C449,349 450.5,349 451,349" fill="none" stroke="#787878" stroke-width="1.5"/>
<line x1="378.2" y1="208.6" x2="378.2" y2="239.2" stroke="#000" stroke-width="2.1" stroke-dasharray="4.5,2"/>
<line x1="388" y1="219.7" x2="388" y2="302.5" stroke="#000" stroke-width="2.1" stroke-dasharray="4.5,2"/>
<line x1="380" y1="274.4" x2="380" y2="324.6" stroke="#000" stroke-width="2.1" stroke-dasharray="4.5,2"/>
</g>
<rect x="256.3" y="193.4" width="194.3" height="161.1" fill="none" stroke="#000" stroke-width="1.4"/>
<line x1="329.7" y1="354.5" x2="329.7" y2="358" stroke="#000" stroke-width="1.2" />
<line x1="450.3" y1="354.5" x2="450.3" y2="358" stroke="#000" stroke-width="1.2" />
<line x1="269.4" y1="354.5" x2="269.4" y2="356.5" stroke="#000" stroke-width="1.2" />
<line x1="390" y1="354.5" x2="390" y2="356.5" stroke="#000" stroke-width="1.2" />
<text x="329.7" y="369.6" font-size="11.5" text-anchor="middle" fill="#000" >185</text>
<text x="446" y="369.6" font-size="11.5" text-anchor="middle" fill="#000" >180</text>
<text x="364.4" y="381.1" font-size="12" text-anchor="middle" fill="#000" >Binding energy (eV)</text>
<text transform="translate(248.5,272.7) rotate(-90)" font-size="12" text-anchor="middle">Intensity (arb. units)</text>
<line x1="363.9" y1="235.1" x2="373.6" y2="235.1" stroke="#000" stroke-width="1.2" />
<path d="M376.6,235.1 L371.6,232.5 L371.6,237.7 Z" fill="#000"/>
<line x1="401" y1="235.1" x2="392.4" y2="235.1" stroke="#000" stroke-width="1.2" />
<path d="M389.4,235.1 L394.4,232.5 L394.4,237.7 Z" fill="#000"/>
<line x1="366.3" y1="287.8" x2="375.6" y2="287.8" stroke="#000" stroke-width="1.2" />
<path d="M378.6,287.8 L373.6,285.2 L373.6,290.4 Z" fill="#000"/>
<line x1="402" y1="287.8" x2="393.2" y2="287.8" stroke="#000" stroke-width="1.2" />
<path d="M390.2,287.8 L395.2,285.2 L395.2,290.4 Z" fill="#000"/>
<text x="258.3" y="207.6" font-size="12" text-anchor="start" fill="#000" >NU-1000@Co-HHTP-Light</text>
<text x="412.2" y="206.7" font-size="12" text-anchor="start" fill="#000" >Zr 3d</text>
<text x="401.6" y="228" font-size="12" text-anchor="start" fill="#000" >+0.30 eV</text>
<text x="258.3" y="257.2" font-size="12" text-anchor="start" fill="#000" >NU-1000@Co-HHTP</text>
<text x="259.3" y="308.9" font-size="12" text-anchor="start" fill="#000" >NU-1000</text>
<text x="350.8" y="310.2" font-size="12" >3d<tspan font-size="8.5" dy="2.5">5/2</tspan></text>
<text x="392.2" y="310.2" font-size="12" text-anchor="start" fill="#000" >-0.29 eV</text>
<text x="284.6" y="325.8" font-size="12" >3d<tspan font-size="8.5" dy="2.5">3/2</tspan></text>
<text x="458.2" y="190.5" font-size="18" text-anchor="start" fill="#000" >f</text>
<clipPath id="cf"><rect x="477.1" y="194.1" width="196.9" height="160.2"/></clipPath>
<g clip-path="url(#cf)">
<path d="M503,236.4 L504,236.4 L504.9,236.4 L505.9,236.4 L506.9,236.3 L507.9,236.3 L508.9,236.2 L509.9,236.2 L510.9,236.1 L511.9,236 L512.9,235.9 L513.9,235.8 L514.8,235.6 L515.8,235.4 L516.8,235.2 L517.8,235 L518.8,234.7 L519.8,234.4 L520.8,234.1 L521.8,233.7 L522.8,233.3 L523.8,232.8 L524.7,232.3 L525.7,231.7 L526.7,231.2 L527.7,230.5 L528.7,229.9 L529.7,229.2 L530.7,228.4 L531.7,227.7 L532.7,226.9 L533.7,226.1 L534.7,225.3 L535.6,224.5 L536.6,223.7 L537.6,222.9 L538.6,222.1 L539.6,221.3 L540.6,220.6 L541.6,219.9 L542.6,219.3 L543.6,218.7 L544.6,218.2 L545.5,217.8 L546.5,217.5 L547.5,217.2 L548.5,217.1 L549.5,217 L550.5,217 L551.5,217.1 L552.5,217.3 L553.5,217.6 L554.5,218 L555.4,218.5 L556.4,219 L557.4,219.6 L558.4,220.3 L559.4,221 L560.4,221.7 L561.4,222.5 L562.4,223.4 L563.4,224.2 L564.4,225.1 L565.3,225.9 L566.3,226.8 L567.3,227.6 L568.3,228.4 L569.3,229.2 L570.3,230 L571.3,230.7 L572.3,231.4 L573.3,232.1 L574.3,232.7 L575.3,233.3 L576.2,233.8 L577.2,234.3 L578.2,234.8 L579.2,235.2 L580.2,235.6 L581.2,236 L582.2,236.3 L583.2,236.5 L584.2,236.8 L585.2,237 L586.1,237.2 L587.1,237.4 L588.1,237.5 L589.1,237.7 L590.1,237.8 L591.1,237.9 L592.1,238 L593.1,238.1 L594.1,238.1 L595.1,238.2 L596,238.3 L597,238.3 L597,238.4 L503,236.5Z" fill="url(#gOra)" opacity="0.9"/>
<path d="M537.6,237.1 L538.6,237 L539.6,237 L540.6,237 L541.6,236.9 L542.6,236.8 L543.6,236.7 L544.6,236.6 L545.6,236.5 L546.6,236.3 L547.6,236.2 L548.6,235.9 L549.6,235.7 L550.6,235.4 L551.6,235.1 L552.6,234.7 L553.6,234.2 L554.6,233.8 L555.6,233.2 L556.6,232.6 L557.6,232 L558.6,231.2 L559.6,230.4 L560.6,229.6 L561.5,228.7 L562.5,227.7 L563.5,226.7 L564.5,225.6 L565.5,224.5 L566.5,223.3 L567.5,222.1 L568.5,220.9 L569.5,219.6 L570.5,218.4 L571.5,217.2 L572.5,216 L573.5,214.9 L574.5,213.8 L575.5,212.7 L576.5,211.8 L577.5,210.9 L578.5,210.1 L579.5,209.5 L580.5,209 L581.5,208.6 L582.5,208.3 L583.5,208.2 L584.5,208.2 L585.5,208.4 L586.5,208.7 L587.5,209.1 L588.5,209.7 L589.5,210.4 L590.5,211.2 L591.5,212.1 L592.5,213.1 L593.5,214.1 L594.5,215.3 L595.5,216.5 L596.5,217.7 L597.5,219 L598.5,220.2 L599.5,221.5 L600.5,222.8 L601.5,224 L602.5,225.2 L603.5,226.4 L604.5,227.5 L605.5,228.6 L606.5,229.6 L607.4,230.5 L608.4,231.4 L609.4,232.2 L610.4,233 L611.4,233.7 L612.4,234.4 L613.4,234.9 L614.4,235.5 L615.4,235.9 L616.4,236.4 L617.4,236.7 L618.4,237.1 L619.4,237.4 L620.4,237.6 L621.4,237.8 L622.4,238 L623.4,238.2 L624.4,238.4 L625.4,238.5 L626.4,238.6 L627.4,238.7 L628.4,238.8 L629.4,238.9 L630.4,238.9 L630.4,239.1 L537.6,237.2Z" fill="url(#gBlu)" opacity="0.9"/>
<g fill="#fff" fill-opacity="0.6" stroke="#a6a6a6" stroke-width="0.55"><circle cx="476.4" cy="235.9" r="2.2"/><circle cx="478.9" cy="236.6" r="2.2"/><circle cx="480.6" cy="235.9" r="2.2"/><circle cx="482.7" cy="236.6" r="2.2"/><circle cx="484.6" cy="236.6" r="2.2"/><circle cx="487.2" cy="235.8" r="2.2"/><circle cx="489" cy="236" r="2.2"/><circle cx="490.9" cy="236.5" r="2.2"/><circle cx="492.5" cy="235" r="2.2"/><circle cx="495.5" cy="235" r="2.2"/><circle cx="496.6" cy="234.4" r="2.2"/><circle cx="498.8" cy="234.7" r="2.2"/><circle cx="500.7" cy="233.3" r="2.2"/><circle cx="503.1" cy="233.3" r="2.2"/><circle cx="505.5" cy="233.1" r="2.2"/><circle cx="506.8" cy="231.9" r="2.2"/><circle cx="509.4" cy="232.3" r="2.2"/><circle cx="510.4" cy="231.5" r="2.2"/><circle cx="513.4" cy="231" r="2.2"/><circle cx="514.7" cy="230.8" r="2.2"/><circle cx="517.3" cy="229.6" r="2.2"/><circle cx="519.2" cy="229" r="2.2"/><circle cx="520.4" cy="228.3" r="2.2"/><circle cx="522.8" cy="227.3" r="2.2"/><circle cx="525.2" cy="226.6" r="2.2"/><circle cx="527.6" cy="225.4" r="2.2"/><circle cx="529.6" cy="223.8" r="2.2"/><circle cx="530.8" cy="221.8" r="2.2"/><circle cx="533.1" cy="220.9" r="2.2"/><circle cx="535.2" cy="218.9" r="2.2"/><circle cx="536.6" cy="218.6" r="2.2"/><circle cx="539.1" cy="217" r="2.2"/><circle cx="540.5" cy="215.3" r="2.2"/><circle cx="543.5" cy="214.4" r="2.2"/><circle cx="545.6" cy="212.7" r="2.2"/><circle cx="546.9" cy="212.4" r="2.2"/><circle cx="548.9" cy="211.3" r="2.2"/><circle cx="551.1" cy="209.6" r="2.2"/><circle cx="552.5" cy="209.7" r="2.2"/><circle cx="554.5" cy="207.9" r="2.2"/><circle cx="556.8" cy="207.6" r="2.2"/><circle cx="559.4" cy="206.5" r="2.2"/><circle cx="561" cy="206" r="2.2"/><circle cx="562.7" cy="204.7" r="2.2"/><circle cx="565.1" cy="204.3" r="2.2"/><circle cx="566.4" cy="203" r="2.2"/><circle cx="568.6" cy="203.2" r="2.2"/><circle cx="571.2" cy="202.9" r="2.2"/><circle cx="573.3" cy="201.5" r="2.2"/><circle cx="575.3" cy="201.9" r="2.2"/><circle cx="576.8" cy="200.4" r="2.2"/><circle cx="578.9" cy="200.5" r="2.2"/><circle cx="580.6" cy="200.2" r="2.2"/><circle cx="582.5" cy="201.6" r="2.2"/><circle cx="584.5" cy="202" r="2.2"/><circle cx="586.6" cy="202.6" r="2.2"/><circle cx="589.4" cy="204.2" r="2.2"/><circle cx="590.6" cy="206.3" r="2.2"/><circle cx="593.2" cy="208.4" r="2.2"/><circle cx="595.4" cy="210.5" r="2.2"/><circle cx="597" cy="213.3" r="2.2"/><circle cx="599" cy="215.8" r="2.2"/><circle cx="601" cy="217.7" r="2.2"/><circle cx="602.5" cy="220.9" r="2.2"/><circle cx="605.3" cy="223.4" r="2.2"/><circle cx="607.2" cy="225.1" r="2.2"/><circle cx="608.6" cy="227.3" r="2.2"/><circle cx="610.5" cy="228.5" r="2.2"/><circle cx="612.6" cy="230.1" r="2.2"/><circle cx="614.8" cy="231.8" r="2.2"/><circle cx="617.3" cy="233.2" r="2.2"/><circle cx="618.7" cy="234.7" r="2.2"/><circle cx="621.3" cy="235.7" r="2.2"/><circle cx="622.4" cy="236.2" r="2.2"/><circle cx="625.5" cy="236.4" r="2.2"/><circle cx="626.6" cy="237.6" r="2.2"/><circle cx="628.8" cy="237.5" r="2.2"/><circle cx="631.4" cy="237.8" r="2.2"/><circle cx="632.6" cy="237.9" r="2.2"/><circle cx="634.8" cy="238.8" r="2.2"/><circle cx="636.8" cy="239.1" r="2.2"/><circle cx="638.5" cy="238.6" r="2.2"/><circle cx="641.1" cy="239" r="2.2"/><circle cx="643" cy="239.7" r="2.2"/><circle cx="644.7" cy="238.9" r="2.2"/><circle cx="646.4" cy="239.3" r="2.2"/><circle cx="648.8" cy="239.3" r="2.2"/><circle cx="650.4" cy="238.8" r="2.2"/><circle cx="652.9" cy="239.8" r="2.2"/><circle cx="654.8" cy="240" r="2.2"/><circle cx="657.1" cy="239.4" r="2.2"/><circle cx="659.3" cy="239.2" r="2.2"/><circle cx="661.1" cy="240" r="2.2"/><circle cx="663" cy="239.4" r="2.2"/><circle cx="664.5" cy="239.7" r="2.2"/><circle cx="666.6" cy="239.5" r="2.2"/><circle cx="669.1" cy="240.2" r="2.2"/><circle cx="671.2" cy="239.7" r="2.2"/><circle cx="673.4" cy="239.5" r="2.2"/></g>
<path d="M476.5,236.4 C478.8,236.3 486.1,236.4 490,236 C493.9,235.6 496.7,234.7 500,233.9 C503.3,233.2 506.6,232.3 510,231.5 C513.4,230.7 517.1,230.2 520.4,228.8 C523.7,227.4 526.6,225 530,222.8 C533.4,220.6 537.7,217.5 540.9,215.5 C544.1,213.5 546.3,212.4 549,211 C551.7,209.6 554.7,208.4 557.2,207.3 C559.7,206.2 561.6,205.3 564,204.5 C566.4,203.7 569.3,202.8 571.5,202.2 C573.7,201.6 575.3,201.2 577,201 C578.7,200.8 580,200.5 581.7,200.8 C583.4,201.1 585.3,201.9 587,203 C588.7,204.1 590.3,205.6 592,207.3 C593.7,209 595.3,210.9 597,213 C598.7,215.1 600.5,217.6 602.2,219.6 C603.9,221.6 605.3,223.3 607,225 C608.7,226.7 610.7,228.4 612.4,229.8 C614.1,231.2 615.3,232.2 617,233.2 C618.7,234.2 620.4,235.1 622.6,235.9 C624.8,236.7 627.1,237.3 630,237.8 C632.9,238.3 635.8,238.7 640,239 C644.2,239.3 649.2,239.4 655,239.5 C660.8,239.6 671.4,239.7 674.7,239.7" fill="none" stroke="#787878" stroke-width="1.5"/>
<path d="M504.2,288.4 L505.2,288.4 L506.2,288.4 L507.2,288.4 L508.2,288.3 L509.2,288.3 L510.2,288.2 L511.2,288.1 L512.2,288.1 L513.2,287.9 L514.2,287.8 L515.2,287.6 L516.1,287.4 L517.1,287.2 L518.1,287 L519.1,286.7 L520.1,286.3 L521.1,285.9 L522.1,285.5 L523.1,285.1 L524.1,284.5 L525.1,284 L526.1,283.4 L527.1,282.7 L528.1,282 L529.1,281.2 L530.1,280.5 L531.1,279.6 L532.1,278.8 L533.1,277.9 L534.1,277 L535.1,276.1 L536.1,275.2 L537.1,274.3 L538,273.4 L539,272.6 L540,271.8 L541,271 L542,270.3 L543,269.7 L544,269.2 L545,268.7 L546,268.4 L547,268.1 L548,268 L549,268 L550,268 L551,268.2 L552,268.5 L553,268.9 L554,269.4 L555,270 L556,270.6 L557,271.3 L558,272.1 L559,273 L560,273.9 L560.9,274.8 L561.9,275.7 L562.9,276.6 L563.9,277.6 L564.9,278.5 L565.9,279.5 L566.9,280.4 L567.9,281.2 L568.9,282 L569.9,282.8 L570.9,283.6 L571.9,284.3 L572.9,284.9 L573.9,285.5 L574.9,286.1 L575.9,286.6 L576.9,287.1 L577.9,287.5 L578.9,287.9 L579.9,288.2 L580.9,288.5 L581.9,288.8 L582.8,289 L583.8,289.2 L584.8,289.4 L585.8,289.5 L586.8,289.7 L587.8,289.8 L588.8,289.9 L589.8,290 L590.8,290.1 L591.8,290.1 L592.8,290.2 L593.8,290.2 L593.8,290.4 L504.2,288.6Z" fill="url(#gOra)" opacity="0.9"/>
<path d="M527.9,289 L528.9,288.9 L529.9,288.9 L530.9,288.9 L531.9,288.9 L532.9,288.9 L533.8,288.8 L534.8,288.7 L535.8,288.7 L536.8,288.6 L537.8,288.4 L538.8,288.3 L539.8,288.1 L540.8,288 L541.8,287.7 L542.8,287.5 L543.7,287.2 L544.7,286.9 L545.7,286.5 L546.7,286.1 L547.7,285.6 L548.7,285.2 L549.7,284.6 L550.7,284.1 L551.7,283.5 L552.7,282.8 L553.7,282.2 L554.6,281.5 L555.6,280.8 L556.6,280.1 L557.6,279.4 L558.6,278.8 L559.6,278.1 L560.6,277.4 L561.6,276.8 L562.6,276.3 L563.6,275.8 L564.5,275.4 L565.5,275 L566.5,274.7 L567.5,274.5 L568.5,274.4 L569.5,274.4 L570.5,274.4 L571.5,274.6 L572.5,274.8 L573.5,275.2 L574.5,275.6 L575.4,276 L576.4,276.6 L577.4,277.2 L578.4,277.8 L579.4,278.5 L580.4,279.2 L581.4,279.9 L582.4,280.6 L583.4,281.4 L584.4,282.1 L585.3,282.8 L586.3,283.5 L587.3,284.2 L588.3,284.8 L589.3,285.4 L590.3,286 L591.3,286.5 L592.3,287 L593.3,287.4 L594.3,287.9 L595.3,288.2 L596.2,288.5 L597.2,288.8 L598.2,289.1 L599.2,289.3 L600.2,289.5 L601.2,289.7 L602.2,289.9 L603.2,290 L604.2,290.1 L605.2,290.2 L606.1,290.3 L607.1,290.4 L608.1,290.5 L609.1,290.5 L610.1,290.6 L611.1,290.6 L611.1,290.7 L527.9,289Z" fill="url(#gGrn)" opacity="0.9"/>
<path d="M550.4,289.4 L551.4,289.4 L552.4,289.4 L553.4,289.4 L554.4,289.3 L555.4,289.3 L556.3,289.2 L557.3,289.2 L558.3,289.1 L559.3,289 L560.3,288.8 L561.3,288.7 L562.3,288.5 L563.3,288.3 L564.3,288.1 L565.3,287.8 L566.2,287.5 L567.2,287.1 L568.2,286.8 L569.2,286.3 L570.2,285.8 L571.2,285.3 L572.2,284.8 L573.2,284.2 L574.2,283.5 L575.2,282.9 L576.2,282.2 L577.1,281.4 L578.1,280.7 L579.1,280 L580.1,279.2 L581.1,278.5 L582.1,277.8 L583.1,277.1 L584.1,276.5 L585.1,275.9 L586.1,275.3 L587,274.9 L588,274.5 L589,274.2 L590,274 L591,273.9 L592,273.8 L593,273.9 L594,274.1 L595,274.3 L596,274.7 L597,275.1 L597.9,275.6 L598.9,276.2 L599.9,276.8 L600.9,277.5 L601.9,278.2 L602.9,278.9 L603.9,279.7 L604.9,280.5 L605.9,281.3 L606.9,282 L607.8,282.8 L608.8,283.5 L609.8,284.2 L610.8,284.9 L611.8,285.6 L612.8,286.2 L613.8,286.7 L614.8,287.2 L615.8,287.7 L616.8,288.1 L617.8,288.5 L618.7,288.9 L619.7,289.2 L620.7,289.5 L621.7,289.7 L622.7,289.9 L623.7,290.1 L624.7,290.3 L625.7,290.4 L626.7,290.6 L627.7,290.7 L628.6,290.8 L629.6,290.8 L630.6,290.9 L631.6,291 L632.6,291 L633.6,291.1 L633.6,291.2 L550.4,289.5Z" fill="url(#gBlu)" opacity="0.9"/>
<g fill="#fff" fill-opacity="0.6" stroke="#a6a6a6" stroke-width="0.55"><circle cx="476.5" cy="287" r="2.2"/><circle cx="478.8" cy="287.8" r="2.2"/><circle cx="481" cy="287.5" r="2.2"/><circle cx="482.5" cy="287.1" r="2.2"/><circle cx="485.4" cy="287" r="2.2"/><circle cx="487.5" cy="287.3" r="2.2"/><circle cx="488.8" cy="286" r="2.2"/><circle cx="491.3" cy="285.9" r="2.2"/><circle cx="492.4" cy="286.2" r="2.2"/><circle cx="495.4" cy="285.8" r="2.2"/><circle cx="497.5" cy="284.5" r="2.2"/><circle cx="498.5" cy="283.7" r="2.2"/><circle cx="501.6" cy="283.1" r="2.2"/><circle cx="502.6" cy="282.4" r="2.2"/><circle cx="504.5" cy="281.8" r="2.2"/><circle cx="506.8" cy="281.2" r="2.2"/><circle cx="508.8" cy="281.4" r="2.2"/><circle cx="510.6" cy="280.5" r="2.2"/><circle cx="513.3" cy="279.3" r="2.2"/><circle cx="515.1" cy="278.7" r="2.2"/><circle cx="517.1" cy="277.2" r="2.2"/><circle cx="518.8" cy="276.2" r="2.2"/><circle cx="520.9" cy="275.9" r="2.2"/><circle cx="522.9" cy="273.4" r="2.2"/><circle cx="525" cy="272.6" r="2.2"/><circle cx="526.9" cy="270.7" r="2.2"/><circle cx="528.5" cy="268.2" r="2.2"/><circle cx="531.2" cy="266.3" r="2.2"/><circle cx="532.8" cy="264.8" r="2.2"/><circle cx="534.6" cy="262.6" r="2.2"/><circle cx="536.4" cy="261.9" r="2.2"/><circle cx="539.2" cy="260.1" r="2.2"/><circle cx="541" cy="258.5" r="2.2"/><circle cx="543.4" cy="256.7" r="2.2"/><circle cx="545" cy="255.3" r="2.2"/><circle cx="546.7" cy="254.1" r="2.2"/><circle cx="549.3" cy="253" r="2.2"/><circle cx="551.4" cy="252.9" r="2.2"/><circle cx="553.1" cy="252.8" r="2.2"/><circle cx="555.2" cy="251.6" r="2.2"/><circle cx="556.7" cy="251.2" r="2.2"/><circle cx="558.4" cy="252.2" r="2.2"/><circle cx="561.1" cy="252.1" r="2.2"/><circle cx="563.3" cy="251.2" r="2.2"/><circle cx="565.6" cy="252" r="2.2"/><circle cx="566.9" cy="251.1" r="2.2"/><circle cx="568.8" cy="251.3" r="2.2"/><circle cx="570.8" cy="251.4" r="2.2"/><circle cx="573.3" cy="252.7" r="2.2"/><circle cx="574.7" cy="252.7" r="2.2"/><circle cx="577.1" cy="252.6" r="2.2"/><circle cx="579.5" cy="252.8" r="2.2"/><circle cx="581.4" cy="252.9" r="2.2"/><circle cx="583.6" cy="253.8" r="2.2"/><circle cx="584.4" cy="255.4" r="2.2"/><circle cx="587.3" cy="256" r="2.2"/><circle cx="589.3" cy="256.6" r="2.2"/><circle cx="590.5" cy="257.8" r="2.2"/><circle cx="593.5" cy="260.2" r="2.2"/><circle cx="594.7" cy="261.4" r="2.2"/><circle cx="596.9" cy="263.8" r="2.2"/><circle cx="598.4" cy="265.8" r="2.2"/><circle cx="600.7" cy="267.6" r="2.2"/><circle cx="602.6" cy="269.3" r="2.2"/><circle cx="605.5" cy="272.2" r="2.2"/><circle cx="607.6" cy="275" r="2.2"/><circle cx="609.3" cy="276.3" r="2.2"/><circle cx="611.1" cy="279.6" r="2.2"/><circle cx="613" cy="280.4" r="2.2"/><circle cx="614.6" cy="283.3" r="2.2"/><circle cx="617.6" cy="284" r="2.2"/><circle cx="618.8" cy="285.9" r="2.2"/><circle cx="621" cy="286.4" r="2.2"/><circle cx="623.6" cy="287.9" r="2.2"/><circle cx="624.8" cy="287.9" r="2.2"/><circle cx="627" cy="289.4" r="2.2"/><circle cx="628.6" cy="289.1" r="2.2"/><circle cx="631.3" cy="290.5" r="2.2"/><circle cx="632.9" cy="290.3" r="2.2"/><circle cx="635.2" cy="290.8" r="2.2"/><circle cx="636.6" cy="290.6" r="2.2"/><circle cx="638.6" cy="290.6" r="2.2"/><circle cx="640.5" cy="290.9" r="2.2"/><circle cx="642.7" cy="291.5" r="2.2"/><circle cx="644.8" cy="291.6" r="2.2"/><circle cx="647.4" cy="290.8" r="2.2"/><circle cx="648.6" cy="291.2" r="2.2"/><circle cx="651" cy="291.2" r="2.2"/><circle cx="652.5" cy="291.2" r="2.2"/><circle cx="655.3" cy="291.1" r="2.2"/><circle cx="656.7" cy="291.7" r="2.2"/><circle cx="658.8" cy="291.8" r="2.2"/><circle cx="661.2" cy="290.6" r="2.2"/><circle cx="662.9" cy="290.8" r="2.2"/><circle cx="665.3" cy="291.1" r="2.2"/><circle cx="666.5" cy="291.8" r="2.2"/><circle cx="669.4" cy="291.4" r="2.2"/><circle cx="671.1" cy="290.8" r="2.2"/><circle cx="673.6" cy="291" r="2.2"/></g>
<path d="M476.5,287.4 C478.8,287.2 486.1,287.1 490,286.5 C493.9,285.9 496.7,284.9 500,283.9 C503.3,282.9 506.6,281.9 510,280.5 C513.4,279.1 517.6,277.4 520.4,275.7 C523.2,274 524.6,272.6 527,270.5 C529.4,268.4 532.4,265.5 534.7,263.4 C537,261.3 539,259.5 541,258 C543,256.5 545,255.1 547,254.2 C549,253.3 551,252.8 553,252.4 C555,252 557.1,251.8 559.3,251.6 C561.5,251.4 563.6,251.4 566,251.5 C568.4,251.6 571.3,251.9 573.6,252.2 C575.9,252.5 578,252.7 580,253.2 C582,253.7 584,254.5 585.8,255.3 C587.6,256.1 589.3,256.8 591,258 C592.7,259.2 594.3,260.8 596,262.4 C597.7,264 599.3,265.6 601,267.5 C602.7,269.4 604.6,271.8 606.3,273.7 C608,275.6 609.3,277.3 611,279 C612.7,280.7 614.8,282.6 616.5,283.9 C618.2,285.2 619.3,285.9 621,286.8 C622.7,287.7 624.7,288.4 626.7,289 C628.7,289.6 630.8,290 633,290.3 C635.2,290.6 633,290.8 640,291 C647,291.2 668.9,291.2 674.7,291.3" fill="none" stroke="#787878" stroke-width="1.5"/>
<path d="M531.7,346.9 L532.7,346.9 L533.7,346.8 L534.7,346.8 L535.7,346.7 L536.7,346.5 L537.7,346.4 L538.7,346.2 L539.7,345.9 L540.7,345.6 L541.6,345.2 L542.6,344.8 L543.6,344.3 L544.6,343.7 L545.6,343 L546.6,342.2 L547.6,341.3 L548.6,340.3 L549.6,339.2 L550.6,338 L551.6,336.7 L552.6,335.3 L553.6,333.8 L554.6,332.2 L555.6,330.6 L556.6,328.9 L557.6,327.3 L558.6,325.6 L559.5,324 L560.5,322.5 L561.5,321.1 L562.5,319.8 L563.5,318.6 L564.5,317.6 L565.5,316.9 L566.5,316.3 L567.5,316 L568.5,315.9 L569.5,316 L570.5,316.4 L571.5,317 L572.5,317.8 L573.5,318.8 L574.5,320 L575.5,321.4 L576.5,322.8 L577.5,324.4 L578.4,326 L579.4,327.7 L580.4,329.4 L581.4,331.1 L582.4,332.8 L583.4,334.4 L584.4,335.9 L585.4,337.3 L586.4,338.7 L587.4,339.9 L588.4,341.1 L589.4,342.1 L590.4,343.1 L591.4,343.9 L592.4,344.6 L593.4,345.3 L594.4,345.8 L595.4,346.3 L596.3,346.7 L597.3,347.1 L598.3,347.4 L599.3,347.6 L600.3,347.8 L601.3,348 L602.3,348.1 L603.3,348.2 L604.3,348.3 L605.3,348.4 L605.3,348.6 L531.7,347.1Z" fill="url(#gGrn)" opacity="0.9"/>
<path d="M560.6,347.6 L561.6,347.5 L562.6,347.5 L563.6,347.5 L564.6,347.4 L565.6,347.3 L566.5,347.3 L567.5,347.1 L568.5,347 L569.5,346.8 L570.5,346.6 L571.5,346.4 L572.5,346.1 L573.5,345.8 L574.5,345.5 L575.5,345 L576.4,344.6 L577.4,344 L578.4,343.5 L579.4,342.8 L580.4,342.1 L581.4,341.3 L582.4,340.5 L583.4,339.6 L584.4,338.6 L585.4,337.6 L586.4,336.6 L587.3,335.5 L588.3,334.4 L589.3,333.3 L590.3,332.2 L591.3,331.1 L592.3,330 L593.3,329 L594.3,328 L595.3,327.1 L596.3,326.3 L597.2,325.7 L598.2,325.1 L599.2,324.6 L600.2,324.3 L601.2,324.1 L602.2,324 L603.2,324.1 L604.2,324.4 L605.2,324.7 L606.2,325.2 L607.2,325.9 L608.1,326.6 L609.1,327.4 L610.1,328.3 L611.1,329.3 L612.1,330.4 L613.1,331.5 L614.1,332.6 L615.1,333.8 L616.1,334.9 L617.1,336.1 L618,337.2 L619,338.3 L620,339.3 L621,340.3 L622,341.3 L623,342.1 L624,343 L625,343.7 L626,344.4 L627,345 L628,345.6 L628.9,346.1 L629.9,346.6 L630.9,347 L631.9,347.3 L632.9,347.6 L633.9,347.9 L634.9,348.2 L635.9,348.4 L636.9,348.5 L637.9,348.7 L638.8,348.8 L639.8,348.9 L640.8,349 L641.8,349.1 L642.8,349.2 L643.8,349.2 L643.8,349.4 L560.6,347.7Z" fill="url(#gBlu)" opacity="0.9"/>
<g fill="#fff" fill-opacity="0.6" stroke="#a6a6a6" stroke-width="0.55"><circle cx="477.1" cy="345.5" r="2.2"/><circle cx="479.4" cy="345" r="2.2"/><circle cx="481.2" cy="345.7" r="2.2"/><circle cx="483.5" cy="344.9" r="2.2"/><circle cx="485.2" cy="345.4" r="2.2"/><circle cx="487" cy="345.8" r="2.2"/><circle cx="489" cy="345.1" r="2.2"/><circle cx="491.5" cy="345.3" r="2.2"/><circle cx="492.8" cy="344.9" r="2.2"/><circle cx="495" cy="344.6" r="2.2"/><circle cx="497.1" cy="345.4" r="2.2"/><circle cx="498.9" cy="345.5" r="2.2"/><circle cx="501.5" cy="345.2" r="2.2"/><circle cx="503.2" cy="344.6" r="2.2"/><circle cx="504.5" cy="345.6" r="2.2"/><circle cx="506.7" cy="344.7" r="2.2"/><circle cx="509.5" cy="345.3" r="2.2"/><circle cx="510.5" cy="344.8" r="2.2"/><circle cx="512.7" cy="344.7" r="2.2"/><circle cx="514.4" cy="345" r="2.2"/><circle cx="516.8" cy="344.8" r="2.2"/><circle cx="518.6" cy="344.4" r="2.2"/><circle cx="520.4" cy="345.2" r="2.2"/><circle cx="523.3" cy="344.8" r="2.2"/><circle cx="524.5" cy="344.2" r="2.2"/><circle cx="526.5" cy="344.3" r="2.2"/><circle cx="528.5" cy="344" r="2.2"/><circle cx="530.6" cy="343.6" r="2.2"/><circle cx="533.2" cy="343.1" r="2.2"/><circle cx="535" cy="341.3" r="2.2"/><circle cx="537" cy="340.2" r="2.2"/><circle cx="538.8" cy="337.1" r="2.2"/><circle cx="541" cy="334.8" r="2.2"/><circle cx="543.3" cy="331.5" r="2.2"/><circle cx="545.4" cy="328.3" r="2.2"/><circle cx="547.1" cy="325.6" r="2.2"/><circle cx="548.8" cy="323.2" r="2.2"/><circle cx="551.2" cy="319.6" r="2.2"/><circle cx="553" cy="317.8" r="2.2"/><circle cx="554.4" cy="315.1" r="2.2"/><circle cx="557.1" cy="314" r="2.2"/><circle cx="559" cy="312.2" r="2.2"/><circle cx="561" cy="311" r="2.2"/><circle cx="563.5" cy="311" r="2.2"/><circle cx="565" cy="309.3" r="2.2"/><circle cx="566.9" cy="310.1" r="2.2"/><circle cx="568.8" cy="309.1" r="2.2"/><circle cx="570.6" cy="309.9" r="2.2"/><circle cx="573.1" cy="309.6" r="2.2"/><circle cx="575.1" cy="310.6" r="2.2"/><circle cx="577.6" cy="311.2" r="2.2"/><circle cx="578.9" cy="311.8" r="2.2"/><circle cx="581.5" cy="312.6" r="2.2"/><circle cx="583.3" cy="312.9" r="2.2"/><circle cx="585" cy="313.8" r="2.2"/><circle cx="587.2" cy="314.2" r="2.2"/><circle cx="588.7" cy="314" r="2.2"/><circle cx="590.7" cy="315.2" r="2.2"/><circle cx="593.1" cy="315.3" r="2.2"/><circle cx="594.6" cy="316.9" r="2.2"/><circle cx="596.5" cy="317.5" r="2.2"/><circle cx="599.3" cy="317.7" r="2.2"/><circle cx="601.6" cy="318.5" r="2.2"/><circle cx="602.4" cy="319.5" r="2.2"/><circle cx="604.9" cy="320.4" r="2.2"/><circle cx="607.4" cy="320.4" r="2.2"/><circle cx="608.4" cy="321.4" r="2.2"/><circle cx="611.3" cy="323.6" r="2.2"/><circle cx="612.7" cy="324.1" r="2.2"/><circle cx="614.8" cy="326.5" r="2.2"/><circle cx="617.3" cy="328.4" r="2.2"/><circle cx="619.6" cy="330.1" r="2.2"/><circle cx="621.4" cy="331" r="2.2"/><circle cx="622.4" cy="333.9" r="2.2"/><circle cx="625.1" cy="334.9" r="2.2"/><circle cx="626.6" cy="336.6" r="2.2"/><circle cx="628.8" cy="338.3" r="2.2"/><circle cx="630.9" cy="339.3" r="2.2"/><circle cx="632.5" cy="340.6" r="2.2"/><circle cx="634.6" cy="341.6" r="2.2"/><circle cx="636.9" cy="342.5" r="2.2"/><circle cx="639.4" cy="343.7" r="2.2"/><circle cx="641" cy="344.5" r="2.2"/><circle cx="642.7" cy="344.5" r="2.2"/><circle cx="644.5" cy="345.5" r="2.2"/><circle cx="646.8" cy="346" r="2.2"/><circle cx="648.8" cy="347.1" r="2.2"/><circle cx="650.4" cy="347.1" r="2.2"/><circle cx="652.9" cy="347.2" r="2.2"/><circle cx="655.3" cy="347.5" r="2.2"/><circle cx="656.5" cy="347.7" r="2.2"/><circle cx="659.6" cy="348.2" r="2.2"/><circle cx="660.5" cy="349.2" r="2.2"/><circle cx="663.2" cy="349.3" r="2.2"/><circle cx="664.8" cy="349.3" r="2.2"/><circle cx="666.4" cy="348.7" r="2.2"/><circle cx="669.4" cy="349.2" r="2.2"/><circle cx="671.3" cy="349.2" r="2.2"/><circle cx="673.5" cy="348.9" r="2.2"/></g>
<path d="M476.5,345.3 C480.4,345.3 492.8,345.2 500,345.1 C507.2,345 514.9,345 520,344.8 C525.1,344.6 528.2,344.6 530.7,344 C533.2,343.4 533.6,342.5 535,341.5 C536.4,340.5 537.5,339.5 538.8,337.9 C540.1,336.3 541.6,334 543,332 C544.4,330 545.7,327.7 547,325.7 C548.3,323.7 549.6,321.7 551,320 C552.4,318.3 553.9,316.7 555.2,315.4 C556.5,314.1 557.6,313.1 559,312.3 C560.4,311.5 562.1,310.7 563.4,310.3 C564.7,309.9 565.6,309.8 567,309.7 C568.4,309.6 570,309.6 571.5,309.7 C573,309.8 574.3,310.1 576,310.5 C577.7,310.9 579.9,311.8 581.7,312.4 C583.5,313 585.3,313.4 587,313.9 C588.7,314.4 590.2,314.8 592,315.4 C593.8,316 596,316.6 598,317.3 C600,318 602.4,318.7 604.2,319.5 C606,320.3 607.3,321 609,322 C610.7,323 612.8,324.4 614.5,325.7 C616.2,327 617.3,328.3 619,329.8 C620.7,331.3 622.9,333.4 624.7,334.9 C626.5,336.4 628.3,337.8 630,339 C631.7,340.2 633.2,341.2 634.9,342 C636.6,342.8 637.8,343.2 640,344 C642.2,344.8 644.7,345.8 648,346.5 C651.3,347.2 655.5,348 660,348.5 C664.5,349 672.2,349.3 674.7,349.5" fill="none" stroke="#787878" stroke-width="1.5"/>
<line x1="583.3" y1="193.4" x2="583.3" y2="275.5" stroke="#000" stroke-width="2.1" stroke-dasharray="4.5,2"/>
<line x1="595.3" y1="253.2" x2="595.3" y2="312.8" stroke="#000" stroke-width="2.1" stroke-dasharray="4.5,2"/>
<line x1="604.3" y1="284.6" x2="604.3" y2="331.4" stroke="#000" stroke-width="2.1" stroke-dasharray="4.5,2"/>
</g>
<rect x="476.4" y="193.4" width="198.3" height="161.6" fill="none" stroke="#000" stroke-width="1.4"/>
<line x1="476.5" y1="355" x2="476.5" y2="358.5" stroke="#000" stroke-width="1.2" />
<line x1="520.5" y1="355" x2="520.5" y2="358.5" stroke="#000" stroke-width="1.2" />
<line x1="564.5" y1="355" x2="564.5" y2="358.5" stroke="#000" stroke-width="1.2" />
<line x1="608.5" y1="355" x2="608.5" y2="358.5" stroke="#000" stroke-width="1.2" />
<line x1="652.5" y1="355" x2="652.5" y2="358.5" stroke="#000" stroke-width="1.2" />
<line x1="498.5" y1="355" x2="498.5" y2="357" stroke="#000" stroke-width="1.2" />
<line x1="542.5" y1="355" x2="542.5" y2="357" stroke="#000" stroke-width="1.2" />
<line x1="586.5" y1="355" x2="586.5" y2="357" stroke="#000" stroke-width="1.2" />
<line x1="630.5" y1="355" x2="630.5" y2="357" stroke="#000" stroke-width="1.2" />
<text x="475.6" y="370" font-size="11.5" text-anchor="middle" fill="#000" >536</text>
<text x="520.3" y="370" font-size="11.5" text-anchor="middle" fill="#000" >534</text>
<text x="565.2" y="370" font-size="11.5" text-anchor="middle" fill="#000" >532</text>
<text x="609.6" y="370" font-size="11.5" text-anchor="middle" fill="#000" >530</text>
<text x="653" y="370" font-size="11.5" text-anchor="middle" fill="#000" >528</text>
<text x="584.9" y="383" font-size="12" text-anchor="middle" fill="#000" >Binding energy (eV)</text>
<text transform="translate(468,271) rotate(-90)" font-size="12" text-anchor="middle">Intensity (arb. units)</text>
<line x1="569.5" y1="261.4" x2="577.9" y2="261.4" stroke="#000" stroke-width="1.2" />
<path d="M580.9,261.4 L575.9,258.8 L575.9,264 Z" fill="#000"/>
<line x1="610.4" y1="261.4" x2="601.1" y2="261.4" stroke="#000" stroke-width="1.2" />
<path d="M598.1,261.4 L603.1,258.8 L603.1,264 Z" fill="#000"/>
<line x1="581.7" y1="307.3" x2="591" y2="307.3" stroke="#000" stroke-width="1.2" />
<path d="M594,307.3 L589,304.7 L589,309.9 Z" fill="#000"/>
<line x1="620.6" y1="307.5" x2="612.3" y2="307.5" stroke="#000" stroke-width="1.2" />
<path d="M609.3,307.5 L614.3,304.9 L614.3,310.1 Z" fill="#000"/>
<text x="482.6" y="208.9" font-size="12" text-anchor="start" fill="#000" >O 1s</text>
<text x="534" y="233" font-size="12" text-anchor="start" fill="#000" >O-C=O</text>
<text x="584.8" y="235.1" font-size="12" text-anchor="start" fill="#000" >Zr-O</text>
<text x="479.6" y="251.2" font-size="12" text-anchor="start" fill="#000" >NU-1000</text>
<text x="604.9" y="259.6" font-size="12" text-anchor="start" fill="#000" >ΔE=-0.41 eV</text>
<text x="612.3" y="277.6" font-size="12" text-anchor="start" fill="#000" >Zr-O-Co</text>
<text x="480.2" y="301.3" font-size="12" text-anchor="start" fill="#000" >NU-1000@Co-HHTP</text>
<text x="608" y="320.6" font-size="12" text-anchor="start" fill="#000" >ΔE=0.49 eV</text>
<text x="559" y="330.5" font-size="12" text-anchor="start" fill="#000" >C-O</text>
<text x="481.1" y="342.1" font-size="12" text-anchor="start" fill="#000" >Co-HHTP</text>
<text x="595.6" y="344" font-size="12" text-anchor="start" fill="#000" >Co-O</text>
<text x="2.2" y="404.5" font-size="18" text-anchor="start" fill="#000" >g</text>
<line x1="33.3" y1="396.5" x2="222" y2="396.5" stroke="#000" stroke-width="2.5" stroke-dasharray="7.4,2.7"/>
<text x="228.7" y="401.3" font-size="12.5" font-weight="normal">V<tspan font-size="9" dy="2.6">ac</tspan></text>
<line x1="47.2" y1="548.8" x2="47.2" y2="422" stroke="#000" stroke-width="1.8" />
<path d="M43.5,427 L47.2,420.5 L50.9,427" fill="none" stroke="#000" stroke-width="1.8"/>
<line x1="42.2" y1="439.3" x2="47.2" y2="439.3" stroke="#000" stroke-width="1.6" />
<line x1="42.2" y1="465.9" x2="47.2" y2="465.9" stroke="#000" stroke-width="1.6" />
<line x1="42.2" y1="489.1" x2="47.2" y2="489.1" stroke="#000" stroke-width="1.6" />
<line x1="42.2" y1="512.5" x2="47.2" y2="512.5" stroke="#000" stroke-width="1.6" />
<line x1="42.2" y1="535.9" x2="47.2" y2="535.9" stroke="#000" stroke-width="1.6" />
<line x1="44.2" y1="454.2" x2="47.2" y2="454.2" stroke="#000" stroke-width="1.6" />
<line x1="44.2" y1="477.9" x2="47.2" y2="477.9" stroke="#000" stroke-width="1.6" />
<line x1="44.2" y1="500.7" x2="47.2" y2="500.7" stroke="#000" stroke-width="1.6" />
<line x1="44.2" y1="524.3" x2="47.2" y2="524.3" stroke="#000" stroke-width="1.6" />
<text x="39.8" y="442.5" font-size="12" text-anchor="end" >-1</text>
<text x="39.8" y="470.1" font-size="12" text-anchor="end" >0</text>
<text x="39.8" y="493.3" font-size="12" text-anchor="end" >1</text>
<text x="39.8" y="516.7" font-size="12" text-anchor="end" >2</text>
<text x="39.8" y="540.1" font-size="12" text-anchor="end" >3</text>
<text transform="translate(23,483.2) rotate(-90)" font-size="11.5" text-anchor="middle">Potential vs. RHE (eV)</text>
<clipPath id="bb762"><rect x="76.2" y="442.5" width="63.9" height="105.8" rx="3.5"/></clipPath>
<g clip-path="url(#bb762)">
<rect x="76.2" y="442.5" width="63.9" height="105.8" fill="#f9e1d2"/>
<rect x="76.2" y="442.5" width="63.9" height="21.3" fill="#f3c4a3"/>
<rect x="76.2" y="528.1" width="63.9" height="20.2" fill="#f3c4a3"/>
<rect x="76.2" y="527.2" width="63.9" height="1.6" fill="#fff"/>
</g>
<line x1="76.2" y1="463.8" x2="140.1" y2="463.8" stroke="#4a4a4a" stroke-width="1.3" />
<line x1="76.2" y1="526.6" x2="140.1" y2="526.6" stroke="#2a2a2a" stroke-width="1.4" />
<rect x="76.2" y="442.5" width="63.9" height="105.8" rx="3.5" fill="none" stroke="#222" stroke-width="1.3"/>
<clipPath id="bb1524"><rect x="152.4" y="438.8" width="64.9" height="77" rx="3.5"/></clipPath>
<g clip-path="url(#bb1524)">
<rect x="152.4" y="438.8" width="64.9" height="77" fill="#e1eed8"/>
<rect x="152.4" y="438.8" width="64.9" height="18.2" fill="#a6cf8b"/>
<rect x="152.4" y="497.9" width="64.9" height="17.9" fill="#a6cf8b"/>
<rect x="152.4" y="497" width="64.9" height="1.6" fill="#fff"/>
</g>
<line x1="152.4" y1="457" x2="217.3" y2="457" stroke="#4a4a4a" stroke-width="1.3" />
<line x1="152.4" y1="496.4" x2="217.3" y2="496.4" stroke="#2a2a2a" stroke-width="1.4" />
<rect x="152.4" y="438.8" width="64.9" height="77" rx="3.5" fill="none" stroke="#222" stroke-width="1.3"/>
<line x1="77" y1="476.4" x2="140" y2="476.4" stroke="#f27a7a" stroke-width="2.8" stroke-dasharray="6.5,3.5"/>
<line x1="153" y1="465.7" x2="217" y2="465.7" stroke="#f27a7a" stroke-width="2.8" stroke-dasharray="6.5,3.5"/>
<line x1="105.7" y1="398.5" x2="105.7" y2="473.8" stroke="#f2b07e" stroke-width="1.6" />
<path d="M103.7,401 L105.7,398.3 L107.7,401" fill="none" stroke="#f2b07e" stroke-width="1.1"/>
<path d="M103.7,471.3 L105.7,474 L107.7,471.3" fill="none" stroke="#f2b07e" stroke-width="1.1"/>
<line x1="183.8" y1="398.5" x2="183.8" y2="462.8" stroke="#f2b07e" stroke-width="1.6" />
<path d="M181.8,401 L183.8,398.3 L185.8,401" fill="none" stroke="#f2b07e" stroke-width="1.1"/>
<path d="M181.8,460.3 L183.8,463 L185.8,460.3" fill="none" stroke="#f2b07e" stroke-width="1.1"/>
<text x="59.2" y="457.3" font-size="11.5" text-anchor="start" fill="#000" >CB</text>
<text x="62.5" y="481.8" font-size="11.5" >E<tspan font-size="8" dy="2.5">f</tspan></text>
<text x="59.8" y="541.7" font-size="11.5" text-anchor="start" fill="#000" >VB</text>
<text x="80.2" y="411.3" font-size="12" >W<tspan font-size="8.5" dy="2.5">1</tspan></text>
<text x="73.1" y="426" font-size="11.5" text-anchor="start" fill="#000" >(4.28)</text>
<text x="159" y="411" font-size="12" >W<tspan font-size="8.5" dy="2.5">2</tspan></text>
<text x="152.2" y="424.5" font-size="11.5" text-anchor="start" fill="#000" >(3.69)</text>
<text x="219.2" y="440.1" font-size="11.5" text-anchor="start" fill="#000" >CB</text>
<text x="223.2" y="470.7" font-size="11.5" >E<tspan font-size="8" dy="2.5">f</tspan></text>
<text x="219.2" y="514.4" font-size="11.5" text-anchor="start" fill="#000" >VB</text>
<text x="83.7" y="568.3" font-size="11.5" text-anchor="start" fill="#000" >NU-1000</text>
<text x="158.9" y="537.8" font-size="11.5" text-anchor="start" fill="#000" >Co-HHTP</text>
<rect x="86.1" y="574" width="108.7" height="18.3" fill="#d9e2f2"/>
<text x="101" y="588.2" font-size="11.3" text-anchor="start" fill="#000" font-style="italic">Before contact</text>
<path d="M242.7,466.2 L277.2,466.2 L277.2,461.3 L286.5,470.9 L277.2,480.4 L277.2,475.5 L242.7,475.5 Z" fill="#b7cbea" stroke="#6a7ea6" stroke-width="1.1" stroke-linejoin="miter"/>
<path d="M451.8,466.6 L486.3,466.6 L486.3,461.6 L495.6,471.2 L486.3,480.8 L486.3,475.8 L451.8,475.8 Z" fill="#b7cbea" stroke="#6a7ea6" stroke-width="1.1" stroke-linejoin="miter"/>
<text x="257.8" y="404" font-size="18" text-anchor="start" fill="#000" >h</text>
<clipPath id="hn"><rect x="305.3" y="442.2" width="62.3" height="105.1" rx="4"/></clipPath>
<g clip-path="url(#hn)">
<rect x="305.3" y="442.2" width="62.3" height="105.1" fill="#f9e1d2"/>
<rect x="348.8" y="442.2" width="18.8" height="105.1" fill="#f3e7c6"/>
<path d="M305.3,442.2 L305.3,463.3 L348.8,463.3 C360.1,463.3 363.8,468.5 367.6,470.5 L367.6,442.2 Z" fill="#f3c4a3"/>
<path d="M305.3,547.3 L305.3,527 L348.8,527 C360.1,527 363.8,533.8 367.6,535.8 L367.6,547.3 Z" fill="#f3c4a3"/>
<path d="M305.3,463.3 L348.8,463.3 C360.1,463.3 363.8,468.5 367.6,470.5" fill="none" stroke="#fff" stroke-width="2" opacity="0.8" transform="translate(0,-2)"/>
<path d="M305.3,463.3 L348.8,463.3 C360.1,463.3 363.8,468.5 367.6,470.5" fill="none" stroke="#333" stroke-width="1.4"/>
<path d="M305.3,527 L348.8,527 C360.1,527 363.8,533.8 367.6,535.8" fill="none" stroke="#fff" stroke-width="1.8" transform="translate(0,2)"/>
<path d="M305.3,527 L348.8,527 C360.1,527 363.8,533.8 367.6,535.8" fill="none" stroke="#333" stroke-width="1.4"/>
</g>
<rect x="307.8" y="444" width="57.3" height="3" rx="1.5" fill="#fff" opacity="0.85"/>
<rect x="307.8" y="542.8" width="57.3" height="3" rx="1.5" fill="#fff" opacity="0.85"/>
<rect x="305.3" y="442.2" width="62.3" height="105.1" rx="4" fill="none" stroke="#1a1a1a" stroke-width="1.4"/>
<clipPath id="hc"><rect x="368" y="438.1" width="62.2" height="78.4" rx="4"/></clipPath>
<g clip-path="url(#hc)">
<rect x="368" y="438.1" width="62.2" height="78.4" fill="#e1eed8"/>
<rect x="368" y="438.1" width="18.2" height="78.4" fill="#f3e7c6"/>
<path d="M368,438.1 L368,451.7 C373.5,456.7 377.1,457.7 386.2,457.7 L430.2,457.7 L430.2,438.1 Z" fill="#a6cf8b"/>
<path d="M368,516.5 L368,492.1 C373.5,496.2 377.1,497.2 386.2,497.2 L430.2,497.2 L430.2,516.5 Z" fill="#a6cf8b"/>
<path d="M368,451.7 C373.5,456.7 377.1,457.7 386.2,457.7 L430.2,457.7" fill="none" stroke="#fff" stroke-width="2" opacity="0.8" transform="translate(0,-2)"/>
<path d="M368,451.7 C373.5,456.7 377.1,457.7 386.2,457.7 L430.2,457.7" fill="none" stroke="#333" stroke-width="1.4"/>
<path d="M368,492.1 C373.5,496.2 377.1,497.2 386.2,497.2 L430.2,497.2" fill="none" stroke="#fff" stroke-width="1.8" transform="translate(0,2)"/>
<path d="M368,492.1 C373.5,496.2 377.1,497.2 386.2,497.2 L430.2,497.2" fill="none" stroke="#333" stroke-width="1.4"/>
</g>
<rect x="370.5" y="439.9" width="57.2" height="2.5" rx="1.2" fill="#fff" opacity="0.7"/>
<rect x="370.5" y="512.5" width="57.2" height="2.5" rx="1.2" fill="#fff" opacity="0.7"/>
<rect x="368" y="438.1" width="62.2" height="78.4" rx="4" fill="none" stroke="#1a1a1a" stroke-width="1.4"/>
<line x1="307.3" y1="473.6" x2="432" y2="473.6" stroke="#f27a7a" stroke-width="2.7" stroke-dasharray="6.5,3.5"/>
<line x1="357.6" y1="480" x2="361" y2="480" stroke="#000" stroke-width="1.6" />
<line x1="357.6" y1="492.5" x2="361" y2="492.5" stroke="#000" stroke-width="1.6" />
<line x1="357.6" y1="505.3" x2="361" y2="505.3" stroke="#000" stroke-width="1.6" />
<line x1="357.6" y1="517" x2="361" y2="517" stroke="#000" stroke-width="1.6" />
<text x="376.7" y="466.8" font-size="13.5" text-anchor="middle" fill="#000" >+</text>
<text x="376.7" y="476.9" font-size="13.5" text-anchor="middle" fill="#000" >+</text>
<text x="376.7" y="487.6" font-size="13.5" text-anchor="middle" fill="#000" >+</text>
<text x="376.7" y="498.3" font-size="13.5" text-anchor="middle" fill="#000" >+</text>
<line x1="384.2" y1="406.1" x2="349.4" y2="406.1" stroke="#f27a7a" stroke-width="2.1"/>
<path d="M355.9,402.1 L348.7,406.1 L355.9,410.1" fill="none" stroke="#f27a7a" stroke-width="2.1" stroke-linejoin="miter"/>
<line x1="385.2" y1="410.1" x2="385.2" y2="437.5" stroke="#f27a7a" stroke-width="2" stroke-dasharray="5,2.5"/>
<line x1="349.7" y1="412.6" x2="349.7" y2="441.5" stroke="#f27a7a" stroke-width="2" stroke-dasharray="5,2.5"/>
<text x="358.5" y="402.3" font-size="11.5" text-anchor="start" fill="#000" >IEF</text>
<text x="288.1" y="462.4" font-size="11.5" text-anchor="start" fill="#000" >CB</text>
<text x="292.4" y="478.6" font-size="11.5" >E<tspan font-size="8" dy="2.5">f</tspan></text>
<text x="288.1" y="530.7" font-size="11.5" text-anchor="start" fill="#000" >VB</text>
<text x="312.7" y="561.2" font-size="11.5" text-anchor="start" fill="#000" >NU-1000</text>
<text x="432.6" y="444.7" font-size="11.5" text-anchor="start" fill="#000" >CB</text>
<text x="432.6" y="509.3" font-size="11.5" text-anchor="start" fill="#000" >VB</text>
<text x="376.5" y="532.1" font-size="11.5" text-anchor="start" fill="#000" >Co-HHTP</text>
<rect x="310.9" y="574.4" width="108.1" height="18.1" fill="#d9e2f2"/>
<text x="330.2" y="588.2" font-size="11.1" text-anchor="start" fill="#000" font-style="italic">After contact</text>
<text x="463.3" y="404.9" font-size="18" text-anchor="start" fill="#000" >i</text>
<clipPath id="in"><rect x="519" y="441.6" width="62.9" height="106.5" rx="4"/></clipPath>
<g clip-path="url(#in)">
<rect x="519" y="441.6" width="62.9" height="106.5" fill="#f9e1d2"/>
<rect x="563.5" y="441.6" width="18.4" height="106.5" fill="#f3e7c6"/>
<path d="M519,441.6 L519,464.3 L563.5,464.3 C574.5,464.3 578.2,468 581.9,470 L581.9,441.6 Z" fill="#f3c4a3"/>
<path d="M519,548.1 L519,527.8 L563.5,527.8 C574.5,527.8 578.2,531 581.9,533 L581.9,548.1 Z" fill="#f3c4a3"/>
<path d="M519,464.3 L563.5,464.3 C574.5,464.3 578.2,468 581.9,470" fill="none" stroke="#fff" stroke-width="2" opacity="0.8" transform="translate(0,-2)"/>
<path d="M519,464.3 L563.5,464.3 C574.5,464.3 578.2,468 581.9,470" fill="none" stroke="#333" stroke-width="1.4"/>
<path d="M519,527.8 L563.5,527.8 C574.5,527.8 578.2,531 581.9,533" fill="none" stroke="#fff" stroke-width="1.8" transform="translate(0,2)"/>
<path d="M519,527.8 L563.5,527.8 C574.5,527.8 578.2,531 581.9,533" fill="none" stroke="#333" stroke-width="1.4"/>
</g>
<rect x="521.5" y="443.4" width="57.9" height="3" rx="1.5" fill="#fff" opacity="0.85"/>
<rect x="521.5" y="543.6" width="57.9" height="3" rx="1.5" fill="#fff" opacity="0.85"/>
<rect x="519" y="441.6" width="62.9" height="106.5" rx="4" fill="none" stroke="#1a1a1a" stroke-width="1.4"/>
<clipPath id="ic"><rect x="582.6" y="437.6" width="62.7" height="80.2" rx="4"/></clipPath>
<g clip-path="url(#ic)">
<rect x="582.6" y="437.6" width="62.7" height="80.2" fill="#e1eed8"/>
<rect x="582.6" y="437.6" width="18.9" height="80.2" fill="#f3e7c6"/>
<path d="M582.6,437.6 L582.6,452 C588.3,456.1 592,457.1 601.5,457.1 L645.3,457.1 L645.3,437.6 Z" fill="#a6cf8b"/>
<path d="M582.6,517.8 L582.6,492 C588.3,496.6 592,497.6 601.5,497.6 L645.3,497.6 L645.3,517.8 Z" fill="#a6cf8b"/>
<path d="M582.6,452 C588.3,456.1 592,457.1 601.5,457.1 L645.3,457.1" fill="none" stroke="#fff" stroke-width="2" opacity="0.8" transform="translate(0,-2)"/>
<path d="M582.6,452 C588.3,456.1 592,457.1 601.5,457.1 L645.3,457.1" fill="none" stroke="#333" stroke-width="1.4"/>
<path d="M582.6,492 C588.3,496.6 592,497.6 601.5,497.6 L645.3,497.6" fill="none" stroke="#fff" stroke-width="1.8" transform="translate(0,2)"/>
<path d="M582.6,492 C588.3,496.6 592,497.6 601.5,497.6 L645.3,497.6" fill="none" stroke="#333" stroke-width="1.4"/>
</g>
<rect x="585.1" y="439.4" width="57.7" height="2.5" rx="1.2" fill="#fff" opacity="0.7"/>
<rect x="585.1" y="513.8" width="57.7" height="2.5" rx="1.2" fill="#fff" opacity="0.7"/>
<rect x="582.6" y="437.6" width="62.7" height="80.2" rx="4" fill="none" stroke="#1a1a1a" stroke-width="1.4"/>
<line x1="571.7" y1="480.2" x2="575.1" y2="480.2" stroke="#000" stroke-width="1.6" />
<line x1="571.7" y1="492.9" x2="575.1" y2="492.9" stroke="#000" stroke-width="1.6" />
<line x1="571.7" y1="504.9" x2="575.1" y2="504.9" stroke="#000" stroke-width="1.6" />
<line x1="571.7" y1="516.9" x2="575.1" y2="516.9" stroke="#000" stroke-width="1.6" />
<text x="590.7" y="466.8" font-size="13.5" text-anchor="middle" fill="#000" >+</text>
<text x="590.7" y="477.6" font-size="13.5" text-anchor="middle" fill="#000" >+</text>
<text x="590.7" y="488.3" font-size="13.5" text-anchor="middle" fill="#000" >+</text>
<text x="590.7" y="498.4" font-size="13.5" text-anchor="middle" fill="#000" >+</text>
<circle cx="527.8" cy="456.2" r="5" fill="url(#gE)"/>
<text x="527.6" y="459.5" font-size="9.5" font-weight="normal" fill="#fff" text-anchor="middle">e<tspan font-size="6" dy="-3.2">-</tspan></text>
<circle cx="548.7" cy="456.2" r="5" fill="url(#gE)"/>
<text x="548.5" y="459.5" font-size="9.5" font-weight="normal" fill="#fff" text-anchor="middle">e<tspan font-size="6" dy="-3.2">-</tspan></text>
<circle cx="570.3" cy="460" r="5" fill="url(#gE)"/>
<text x="570.1" y="463.3" font-size="9.5" font-weight="normal" fill="#fff" text-anchor="middle">e<tspan font-size="6" dy="-3.2">-</tspan></text>
<circle cx="592.7" cy="447.8" r="5" fill="url(#gE)"/>
<text x="592.5" y="451.1" font-size="9.5" font-weight="normal" fill="#fff" text-anchor="middle">e<tspan font-size="6" dy="-3.2">-</tspan></text>
<circle cx="614.2" cy="449.5" r="5" fill="url(#gE)"/>
<text x="614" y="452.8" font-size="9.5" font-weight="normal" fill="#fff" text-anchor="middle">e<tspan font-size="6" dy="-3.2">-</tspan></text>
<circle cx="634.4" cy="449.5" r="5" fill="url(#gE)"/>
<text x="634.2" y="452.8" font-size="9.5" font-weight="normal" fill="#fff" text-anchor="middle">e<tspan font-size="6" dy="-3.2">-</tspan></text>
<circle cx="529.3" cy="537.8" r="5" fill="url(#gH)"/>
<text x="529.1" y="541.1" font-size="9.5" font-weight="normal" fill="#fff" text-anchor="middle">h<tspan font-size="6" dy="-3.2">+</tspan></text>
<circle cx="549.2" cy="537.8" r="5" fill="url(#gH)"/>
<text x="549" y="541.1" font-size="9.5" font-weight="normal" fill="#fff" text-anchor="middle">h<tspan font-size="6" dy="-3.2">+</tspan></text>
<circle cx="570.2" cy="537.8" r="5" fill="url(#gH)"/>
<text x="570" y="541.1" font-size="9.5" font-weight="normal" fill="#fff" text-anchor="middle">h<tspan font-size="6" dy="-3.2">+</tspan></text>
<circle cx="592.7" cy="509" r="5" fill="url(#gH)"/>
<text x="592.5" y="512.3" font-size="9.5" font-weight="normal" fill="#fff" text-anchor="middle">h<tspan font-size="6" dy="-3.2">+</tspan></text>
<circle cx="614.2" cy="509" r="5" fill="url(#gH)"/>
<text x="614" y="512.3" font-size="9.5" font-weight="normal" fill="#fff" text-anchor="middle">h<tspan font-size="6" dy="-3.2">+</tspan></text>
<circle cx="634.4" cy="509" r="5" fill="url(#gH)"/>
<text x="634.2" y="512.3" font-size="9.5" font-weight="normal" fill="#fff" text-anchor="middle">h<tspan font-size="6" dy="-3.2">+</tspan></text>
<line x1="548.9" y1="528.5" x2="548.9" y2="467.8" stroke="#c47c86" stroke-width="1.9"/>
<path d="M546.3,469 L548.9,465.3 L551.5,469" fill="none" stroke="#c47c86" stroke-width="1.2"/>
<line x1="615.5" y1="498.3" x2="615.5" y2="463.9" stroke="#c47c86" stroke-width="1.9"/>
<path d="M612.9,465.1 L615.5,461.4 L618.1,465.1" fill="none" stroke="#c47c86" stroke-width="1.2"/>
<linearGradient id="gBoltA" gradientUnits="userSpaceOnUse" x1="525" y1="483" x2="544.7" y2="513.4"><stop offset="0" stop-color="#f04080"/><stop offset="0.22" stop-color="#f86a3a"/><stop offset="0.42" stop-color="#f8e020"/><stop offset="0.56" stop-color="#eef020"/><stop offset="0.68" stop-color="#50c860"/><stop offset="0.82" stop-color="#0fa0a0"/><stop offset="1" stop-color="#1048c0"/></linearGradient>
<path d="M521.4,488.1 L529.5,481.7 L533.5,490.5 L532.2,491.8 L537.9,499.6 L536.2,501 L544.7,513.4 L532.9,504.7 L534.9,503.3 L526.8,496.2 L528.8,494.2Z" fill="none" stroke="#f6a6a0" stroke-width="3" stroke-linejoin="round" opacity="0.85"/>
<path d="M521.4,488.1 L529.5,481.7 L533.5,490.5 L532.2,491.8 L537.9,499.6 L536.2,501 L544.7,513.4 L532.9,504.7 L534.9,503.3 L526.8,496.2 L528.8,494.2Z" fill="url(#gBoltA)" stroke="#d88a10" stroke-width="0.8" stroke-linejoin="round"/>
<linearGradient id="gBoltB" gradientUnits="userSpaceOnUse" x1="640" y1="462" x2="622.4" y2="494.8"><stop offset="0" stop-color="#f04080"/><stop offset="0.22" stop-color="#f86a3a"/><stop offset="0.42" stop-color="#f8e020"/><stop offset="0.56" stop-color="#eef020"/><stop offset="0.68" stop-color="#50c860"/><stop offset="0.82" stop-color="#0fa0a0"/><stop offset="1" stop-color="#1048c0"/></linearGradient>
<path d="M644.3,467.3 L635.5,461.3 L632.1,470.6 L633.5,471.8 L628.3,480.2 L630.1,481.5 L622.4,494.8 L633.8,485 L631.6,483.8 L639.4,475.9 L637.2,474Z" fill="none" stroke="#f6a6a0" stroke-width="3" stroke-linejoin="round" opacity="0.85"/>
<path d="M644.3,467.3 L635.5,461.3 L632.1,470.6 L633.5,471.8 L628.3,480.2 L630.1,481.5 L622.4,494.8 L633.8,485 L631.6,483.8 L639.4,475.9 L637.2,474Z" fill="url(#gBoltB)" stroke="#d88a10" stroke-width="0.8" stroke-linejoin="round"/>
<path d="M575.5,459.5 C589,462 597,474 599.2,493" fill="none" stroke="#555" stroke-width="1.3" stroke-dasharray="1.2,1.5"/>
<path d="M596.8,490 L599.3,495 L601.6,490" fill="none" stroke="#555" stroke-width="1"/>
<line x1="519.5" y1="474.5" x2="581" y2="474.5" stroke="none"/>
<path d="M661.5,467 C650,455 641,440 641.2,425 C641.5,413 643.5,405 646.3,400.6 L643.4,398.3 L657.3,392 L655.7,407 L652.9,404.6 C649.6,410 647,418 646.8,428 C646.7,442 652,456 661.5,467 Z" fill="#fbfdf9" stroke="#a8d494" stroke-width="1.5" stroke-linejoin="round"/>
<text x="660.5" y="395.5" font-size="12" text-anchor="start" fill="#000" >Urea</text>
<line x1="598.2" y1="407.4" x2="563.3" y2="407.4" stroke="#f27a7a" stroke-width="2.1"/>
<path d="M569.8,403.4 L562.6,407.4 L569.8,411.4" fill="none" stroke="#f27a7a" stroke-width="2.1" stroke-linejoin="miter"/>
<line x1="599.2" y1="411.4" x2="599.2" y2="437.5" stroke="#f27a7a" stroke-width="2" stroke-dasharray="5,2.5"/>
<line x1="563.6" y1="413.9" x2="563.6" y2="441.6" stroke="#f27a7a" stroke-width="2" stroke-dasharray="5,2.5"/>
<text x="573.1" y="402.1" font-size="11.5" text-anchor="start" fill="#000" >IEF</text>
<text x="501.7" y="462.4" font-size="11.5" text-anchor="start" fill="#000" >CB</text>
<text x="506.8" y="478.6" font-size="11.5" >E<tspan font-size="8" dy="2.5">f</tspan></text>
<text x="501.7" y="530.9" font-size="11.5" text-anchor="start" fill="#000" >VB</text>
<text x="526.5" y="562.2" font-size="11.5" text-anchor="start" fill="#000" >NU-1000</text>
<text x="647.8" y="445" font-size="11.5" text-anchor="start" fill="#000" >CB</text>
<text x="647.8" y="511.2" font-size="11.5" text-anchor="start" fill="#000" >VB</text>
<text x="590.1" y="532.7" font-size="11.5" text-anchor="start" fill="#000" >Co-HHTP</text>
<rect x="519.3" y="575.8" width="108.6" height="17.2" fill="#d9e2f2"/>
<text x="529.8" y="589" font-size="11.5" text-anchor="start" fill="#000" font-style="italic">Light irradiation</text>
</svg>
</body></html>
